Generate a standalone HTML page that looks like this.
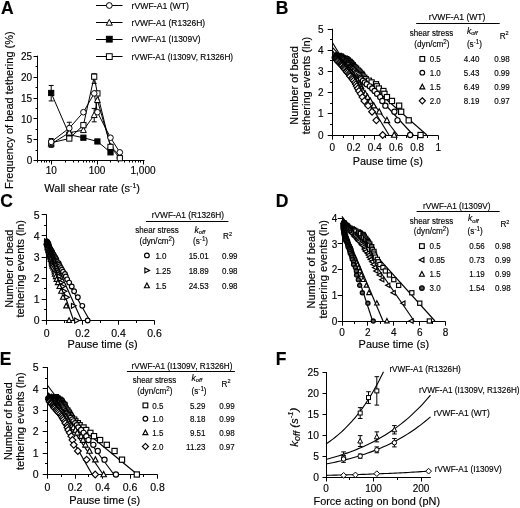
<!DOCTYPE html>
<html><head><meta charset="utf-8"><style>
html,body{margin:0;padding:0;background:#fff;width:520px;height:508px;overflow:hidden}
svg{display:block;filter:blur(0.35px)}
text{font-family:"Liberation Sans", sans-serif;fill:#000;stroke:#000;stroke-width:0.15px}
</style></head><body>
<svg width="520" height="508" viewBox="0 0 520 508" font-family='"Liberation Sans", sans-serif'><text x="1.00" y="13.90" font-size="17.5" font-weight="bold">A</text>
<line x1="37.50" y1="55.70" x2="37.50" y2="161.20" stroke="#000" stroke-width="1.0"/>
<line x1="33.50" y1="160.50" x2="37.50" y2="160.50" stroke="#000" stroke-width="1.0"/>
<line x1="33.50" y1="139.50" x2="37.50" y2="139.50" stroke="#000" stroke-width="1.0"/>
<line x1="33.50" y1="118.50" x2="37.50" y2="118.50" stroke="#000" stroke-width="1.0"/>
<line x1="33.50" y1="98.50" x2="37.50" y2="98.50" stroke="#000" stroke-width="1.0"/>
<line x1="33.50" y1="77.50" x2="37.50" y2="77.50" stroke="#000" stroke-width="1.0"/>
<line x1="33.50" y1="56.50" x2="37.50" y2="56.50" stroke="#000" stroke-width="1.0"/>
<line x1="35.50" y1="150.50" x2="37.50" y2="150.50" stroke="#000" stroke-width="1.0"/>
<line x1="35.50" y1="129.50" x2="37.50" y2="129.50" stroke="#000" stroke-width="1.0"/>
<line x1="35.50" y1="108.50" x2="37.50" y2="108.50" stroke="#000" stroke-width="1.0"/>
<line x1="35.50" y1="87.50" x2="37.50" y2="87.50" stroke="#000" stroke-width="1.0"/>
<line x1="35.50" y1="66.50" x2="37.50" y2="66.50" stroke="#000" stroke-width="1.0"/>
<text x="32.20" y="164.30" font-size="10" text-anchor="end">0</text>
<text x="32.20" y="143.40" font-size="10" text-anchor="end">5</text>
<text x="32.20" y="122.50" font-size="10" text-anchor="end">10</text>
<text x="32.20" y="101.60" font-size="10" text-anchor="end">15</text>
<text x="32.20" y="80.70" font-size="10" text-anchor="end">20</text>
<text x="32.20" y="59.80" font-size="10" text-anchor="end">25</text>
<line x1="37.00" y1="160.50" x2="144.50" y2="160.50" stroke="#000" stroke-width="1.0"/>
<line x1="51.50" y1="160.50" x2="51.50" y2="164.50" stroke="#000" stroke-width="1.0"/>
<line x1="97.50" y1="160.50" x2="97.50" y2="164.50" stroke="#000" stroke-width="1.0"/>
<line x1="143.50" y1="160.50" x2="143.50" y2="164.50" stroke="#000" stroke-width="1.0"/>
<line x1="37.50" y1="160.50" x2="37.50" y2="162.50" stroke="#000" stroke-width="1.0"/>
<line x1="41.50" y1="160.50" x2="41.50" y2="162.50" stroke="#000" stroke-width="1.0"/>
<line x1="44.50" y1="160.50" x2="44.50" y2="162.50" stroke="#000" stroke-width="1.0"/>
<line x1="46.50" y1="160.50" x2="46.50" y2="162.50" stroke="#000" stroke-width="1.0"/>
<line x1="49.50" y1="160.50" x2="49.50" y2="162.50" stroke="#000" stroke-width="1.0"/>
<line x1="65.50" y1="160.50" x2="65.50" y2="162.50" stroke="#000" stroke-width="1.0"/>
<line x1="73.50" y1="160.50" x2="73.50" y2="162.50" stroke="#000" stroke-width="1.0"/>
<line x1="78.50" y1="160.50" x2="78.50" y2="162.50" stroke="#000" stroke-width="1.0"/>
<line x1="83.50" y1="160.50" x2="83.50" y2="162.50" stroke="#000" stroke-width="1.0"/>
<line x1="86.50" y1="160.50" x2="86.50" y2="162.50" stroke="#000" stroke-width="1.0"/>
<line x1="89.50" y1="160.50" x2="89.50" y2="162.50" stroke="#000" stroke-width="1.0"/>
<line x1="92.50" y1="160.50" x2="92.50" y2="162.50" stroke="#000" stroke-width="1.0"/>
<line x1="94.50" y1="160.50" x2="94.50" y2="162.50" stroke="#000" stroke-width="1.0"/>
<line x1="110.50" y1="160.50" x2="110.50" y2="162.50" stroke="#000" stroke-width="1.0"/>
<line x1="118.50" y1="160.50" x2="118.50" y2="162.50" stroke="#000" stroke-width="1.0"/>
<line x1="124.50" y1="160.50" x2="124.50" y2="162.50" stroke="#000" stroke-width="1.0"/>
<line x1="129.50" y1="160.50" x2="129.50" y2="162.50" stroke="#000" stroke-width="1.0"/>
<line x1="132.50" y1="160.50" x2="132.50" y2="162.50" stroke="#000" stroke-width="1.0"/>
<line x1="135.50" y1="160.50" x2="135.50" y2="162.50" stroke="#000" stroke-width="1.0"/>
<line x1="138.50" y1="160.50" x2="138.50" y2="162.50" stroke="#000" stroke-width="1.0"/>
<line x1="140.50" y1="160.50" x2="140.50" y2="162.50" stroke="#000" stroke-width="1.0"/>
<text x="51.20" y="174.20" font-size="10" text-anchor="middle">10</text>
<text x="97.10" y="174.20" font-size="10" text-anchor="middle">100</text>
<text x="143.00" y="174.20" font-size="10" text-anchor="middle">1,000</text>
<text x="44.30" y="191.60" font-size="11">Wall shear rate (s<tspan font-size="7" dy="-4">-1</tspan><tspan dy="4">)</tspan></text>
<text x="13.10" y="110.20" font-size="11" text-anchor="middle" transform="rotate(-90 13.10 110.20)">Frequency of bead tethering (%)</text>
<line x1="96.00" y1="5.50" x2="122.50" y2="5.50" stroke="#000" stroke-width="1.0"/>
<circle cx="109.30" cy="5.50" r="2.90" fill="#fff" stroke="#000" stroke-width="1.0"/>
<text x="131.60" y="8.50" font-size="8.5" textLength="57.3" lengthAdjust="spacingAndGlyphs">rVWF-A1 (WT)</text>
<line x1="96.00" y1="22.50" x2="122.50" y2="22.50" stroke="#000" stroke-width="1.0"/>
<polygon points="109.30,19.36 112.34,25.20 106.25,25.20" fill="#fff" stroke="#000" stroke-width="1.0" stroke-linejoin="miter"/>
<text x="131.60" y="25.70" font-size="8.5" textLength="73.5" lengthAdjust="spacingAndGlyphs">rVWF-A1 (R1326H)</text>
<line x1="96.00" y1="39.50" x2="122.50" y2="39.50" stroke="#000" stroke-width="1.0"/>
<rect x="106.40" y="36.30" width="5.80" height="5.80" fill="#000" stroke="#000" stroke-width="1.0"/>
<text x="131.60" y="42.20" font-size="8.5" textLength="69.0" lengthAdjust="spacingAndGlyphs">rVWF-A1 (I1309V)</text>
<line x1="96.00" y1="56.50" x2="122.50" y2="56.50" stroke="#000" stroke-width="1.0"/>
<rect x="106.40" y="53.70" width="5.80" height="5.80" fill="#fff" stroke="#000" stroke-width="1.0"/>
<text x="131.60" y="59.60" font-size="8.5" textLength="101.5" lengthAdjust="spacingAndGlyphs">rVWF-A1 (I1309V, R1326H)</text>
<line x1="51.20" y1="100.93" x2="51.20" y2="85.46" stroke="#000" stroke-width="1.0"/>
<line x1="48.70" y1="100.93" x2="53.70" y2="100.93" stroke="#000" stroke-width="1.0"/>
<line x1="48.70" y1="85.46" x2="53.70" y2="85.46" stroke="#000" stroke-width="1.0"/>
<line x1="51.20" y1="147.32" x2="51.20" y2="138.55" stroke="#000" stroke-width="1.0"/>
<line x1="48.70" y1="147.32" x2="53.70" y2="147.32" stroke="#000" stroke-width="1.0"/>
<line x1="48.70" y1="138.55" x2="53.70" y2="138.55" stroke="#000" stroke-width="1.0"/>
<line x1="69.30" y1="137.71" x2="69.30" y2="122.24" stroke="#000" stroke-width="1.0"/>
<line x1="66.80" y1="137.71" x2="71.80" y2="137.71" stroke="#000" stroke-width="1.0"/>
<line x1="66.80" y1="122.24" x2="71.80" y2="122.24" stroke="#000" stroke-width="1.0"/>
<line x1="94.20" y1="121.83" x2="94.20" y2="108.45" stroke="#000" stroke-width="1.0"/>
<line x1="91.70" y1="121.83" x2="96.70" y2="121.83" stroke="#000" stroke-width="1.0"/>
<line x1="91.70" y1="108.45" x2="96.70" y2="108.45" stroke="#000" stroke-width="1.0"/>
<line x1="94.20" y1="83.37" x2="94.20" y2="73.76" stroke="#000" stroke-width="1.0"/>
<line x1="91.70" y1="83.37" x2="96.70" y2="83.37" stroke="#000" stroke-width="1.0"/>
<line x1="91.70" y1="73.76" x2="96.70" y2="73.76" stroke="#000" stroke-width="1.0"/>
<polyline points="51.20,92.98 69.30,134.78 83.40,137.71 97.40,141.47 110.50,152.34" fill="none" stroke="#000" stroke-width="1.0"/>
<polyline points="51.20,143.98 69.30,132.69 83.40,130.19 94.20,115.14 97.40,100.09 110.50,146.07 119.80,155.68" fill="none" stroke="#000" stroke-width="1.0"/>
<polyline points="51.20,142.73 69.30,138.55 83.40,125.17 94.20,76.68 97.40,93.40 110.50,146.91 119.80,158.19" fill="none" stroke="#000" stroke-width="1.0"/>
<polyline points="51.20,141.89 69.30,128.10 83.40,112.21 94.20,93.40 97.40,112.21 110.50,137.71 119.80,152.34" fill="none" stroke="#000" stroke-width="1.0"/>
<rect x="48.60" y="90.38" width="5.20" height="5.20" fill="#000" stroke="#000" stroke-width="1.0"/>
<rect x="66.70" y="132.18" width="5.20" height="5.20" fill="#000" stroke="#000" stroke-width="1.0"/>
<rect x="80.80" y="135.11" width="5.20" height="5.20" fill="#000" stroke="#000" stroke-width="1.0"/>
<rect x="94.80" y="138.87" width="5.20" height="5.20" fill="#000" stroke="#000" stroke-width="1.0"/>
<rect x="107.90" y="149.74" width="5.20" height="5.20" fill="#000" stroke="#000" stroke-width="1.0"/>
<polygon points="51.20,140.76 54.14,146.39 48.26,146.39" fill="#fff" stroke="#000" stroke-width="1.0" stroke-linejoin="miter"/>
<polygon points="69.30,129.47 72.24,135.11 66.36,135.11" fill="#fff" stroke="#000" stroke-width="1.0" stroke-linejoin="miter"/>
<polygon points="83.40,126.97 86.34,132.60 80.46,132.60" fill="#fff" stroke="#000" stroke-width="1.0" stroke-linejoin="miter"/>
<polygon points="94.20,111.92 97.14,117.55 91.26,117.55" fill="#fff" stroke="#000" stroke-width="1.0" stroke-linejoin="miter"/>
<polygon points="97.40,96.87 100.34,102.50 94.46,102.50" fill="#fff" stroke="#000" stroke-width="1.0" stroke-linejoin="miter"/>
<polygon points="110.50,142.85 113.44,148.48 107.56,148.48" fill="#fff" stroke="#000" stroke-width="1.0" stroke-linejoin="miter"/>
<polygon points="119.80,152.46 122.74,158.10 116.86,158.10" fill="#fff" stroke="#000" stroke-width="1.0" stroke-linejoin="miter"/>
<rect x="48.60" y="140.13" width="5.20" height="5.20" fill="#fff" stroke="#000" stroke-width="1.0"/>
<rect x="66.70" y="135.95" width="5.20" height="5.20" fill="#fff" stroke="#000" stroke-width="1.0"/>
<rect x="80.80" y="122.57" width="5.20" height="5.20" fill="#fff" stroke="#000" stroke-width="1.0"/>
<rect x="91.60" y="74.08" width="5.20" height="5.20" fill="#fff" stroke="#000" stroke-width="1.0"/>
<rect x="94.80" y="90.80" width="5.20" height="5.20" fill="#fff" stroke="#000" stroke-width="1.0"/>
<rect x="107.90" y="144.31" width="5.20" height="5.20" fill="#fff" stroke="#000" stroke-width="1.0"/>
<rect x="117.20" y="155.59" width="5.20" height="5.20" fill="#fff" stroke="#000" stroke-width="1.0"/>
<circle cx="51.20" cy="141.89" r="2.80" fill="#fff" stroke="#000" stroke-width="1.0"/>
<circle cx="69.30" cy="128.10" r="2.80" fill="#fff" stroke="#000" stroke-width="1.0"/>
<circle cx="83.40" cy="112.21" r="2.80" fill="#fff" stroke="#000" stroke-width="1.0"/>
<circle cx="94.20" cy="93.40" r="2.80" fill="#fff" stroke="#000" stroke-width="1.0"/>
<circle cx="97.40" cy="112.21" r="2.80" fill="#fff" stroke="#000" stroke-width="1.0"/>
<circle cx="110.50" cy="137.71" r="2.80" fill="#fff" stroke="#000" stroke-width="1.0"/>
<circle cx="119.80" cy="152.34" r="2.80" fill="#fff" stroke="#000" stroke-width="1.0"/>
<line x1="332.50" y1="28.75" x2="332.50" y2="135.50" stroke="#000" stroke-width="1.0"/>
<line x1="327.70" y1="135.50" x2="332.50" y2="135.50" stroke="#000" stroke-width="1.0"/>
<line x1="327.70" y1="113.50" x2="332.50" y2="113.50" stroke="#000" stroke-width="1.0"/>
<line x1="327.70" y1="92.50" x2="332.50" y2="92.50" stroke="#000" stroke-width="1.0"/>
<line x1="327.70" y1="71.50" x2="332.50" y2="71.50" stroke="#000" stroke-width="1.0"/>
<line x1="327.70" y1="50.50" x2="332.50" y2="50.50" stroke="#000" stroke-width="1.0"/>
<line x1="327.70" y1="29.50" x2="332.50" y2="29.50" stroke="#000" stroke-width="1.0"/>
<line x1="330.00" y1="124.50" x2="332.50" y2="124.50" stroke="#000" stroke-width="1.0"/>
<line x1="330.00" y1="103.50" x2="332.50" y2="103.50" stroke="#000" stroke-width="1.0"/>
<line x1="330.00" y1="82.50" x2="332.50" y2="82.50" stroke="#000" stroke-width="1.0"/>
<line x1="330.00" y1="60.50" x2="332.50" y2="60.50" stroke="#000" stroke-width="1.0"/>
<line x1="330.00" y1="39.50" x2="332.50" y2="39.50" stroke="#000" stroke-width="1.0"/>
<text x="323.60" y="138.60" font-size="10" text-anchor="end">0</text>
<text x="323.60" y="117.45" font-size="10" text-anchor="end">1</text>
<text x="323.60" y="96.30" font-size="10" text-anchor="end">2</text>
<text x="323.60" y="75.15" font-size="10" text-anchor="end">3</text>
<text x="323.60" y="54.00" font-size="10" text-anchor="end">4</text>
<text x="323.60" y="32.85" font-size="10" text-anchor="end">5</text>
<line x1="332.00" y1="135.50" x2="438.40" y2="135.50" stroke="#000" stroke-width="1.0"/>
<line x1="332.50" y1="135.50" x2="332.50" y2="139.70" stroke="#000" stroke-width="1.0"/>
<line x1="353.50" y1="135.50" x2="353.50" y2="139.70" stroke="#000" stroke-width="1.0"/>
<line x1="374.50" y1="135.50" x2="374.50" y2="139.70" stroke="#000" stroke-width="1.0"/>
<line x1="396.50" y1="135.50" x2="396.50" y2="139.70" stroke="#000" stroke-width="1.0"/>
<line x1="417.50" y1="135.50" x2="417.50" y2="139.70" stroke="#000" stroke-width="1.0"/>
<line x1="438.50" y1="135.50" x2="438.50" y2="139.70" stroke="#000" stroke-width="1.0"/>
<line x1="343.50" y1="135.50" x2="343.50" y2="138.00" stroke="#000" stroke-width="1.0"/>
<line x1="364.50" y1="135.50" x2="364.50" y2="138.00" stroke="#000" stroke-width="1.0"/>
<line x1="385.50" y1="135.50" x2="385.50" y2="138.00" stroke="#000" stroke-width="1.0"/>
<line x1="406.50" y1="135.50" x2="406.50" y2="138.00" stroke="#000" stroke-width="1.0"/>
<line x1="427.50" y1="135.50" x2="427.50" y2="138.00" stroke="#000" stroke-width="1.0"/>
<text x="332.40" y="150.60" font-size="10" text-anchor="middle">0</text>
<text x="353.60" y="150.60" font-size="10" text-anchor="middle">0.2</text>
<text x="374.80" y="150.60" font-size="10" text-anchor="middle">0.4</text>
<text x="396.00" y="150.60" font-size="10" text-anchor="middle">0.6</text>
<text x="417.20" y="150.60" font-size="10" text-anchor="middle">0.8</text>
<text x="438.40" y="150.60" font-size="10" text-anchor="middle">1</text>
<text x="352.80" y="165.30" font-size="10.9" textLength="70.0" lengthAdjust="spacingAndGlyphs">Pause time (s)</text>
<line x1="332.40" y1="52.09" x2="426.84" y2="135.00" stroke="#000" stroke-width="1.15"/>
<line x1="332.40" y1="47.44" x2="413.22" y2="135.00" stroke="#000" stroke-width="1.15"/>
<line x1="332.40" y1="50.61" x2="397.57" y2="135.00" stroke="#000" stroke-width="1.15"/>
<line x1="332.40" y1="42.57" x2="388.96" y2="135.00" stroke="#000" stroke-width="1.15"/>
<rect x="336.18" y="53.35" width="5.20" height="5.20" fill="#fff" stroke="#000" stroke-width="1.15"/>
<rect x="337.90" y="53.86" width="5.20" height="5.20" fill="#fff" stroke="#000" stroke-width="1.15"/>
<rect x="338.03" y="54.38" width="5.20" height="5.20" fill="#fff" stroke="#000" stroke-width="1.15"/>
<rect x="339.03" y="54.92" width="5.20" height="5.20" fill="#fff" stroke="#000" stroke-width="1.15"/>
<rect x="340.11" y="55.47" width="5.20" height="5.20" fill="#fff" stroke="#000" stroke-width="1.15"/>
<rect x="342.27" y="56.03" width="5.20" height="5.20" fill="#fff" stroke="#000" stroke-width="1.15"/>
<rect x="343.53" y="56.61" width="5.20" height="5.20" fill="#fff" stroke="#000" stroke-width="1.15"/>
<rect x="344.04" y="57.20" width="5.20" height="5.20" fill="#fff" stroke="#000" stroke-width="1.15"/>
<rect x="345.13" y="57.82" width="5.20" height="5.20" fill="#fff" stroke="#000" stroke-width="1.15"/>
<rect x="345.28" y="58.45" width="5.20" height="5.20" fill="#fff" stroke="#000" stroke-width="1.15"/>
<rect x="346.63" y="59.10" width="5.20" height="5.20" fill="#fff" stroke="#000" stroke-width="1.15"/>
<rect x="347.07" y="59.77" width="5.20" height="5.20" fill="#fff" stroke="#000" stroke-width="1.15"/>
<rect x="348.01" y="60.46" width="5.20" height="5.20" fill="#fff" stroke="#000" stroke-width="1.15"/>
<rect x="348.55" y="61.18" width="5.20" height="5.20" fill="#fff" stroke="#000" stroke-width="1.15"/>
<rect x="349.01" y="61.92" width="5.20" height="5.20" fill="#fff" stroke="#000" stroke-width="1.15"/>
<rect x="350.26" y="62.69" width="5.20" height="5.20" fill="#fff" stroke="#000" stroke-width="1.15"/>
<rect x="349.98" y="63.49" width="5.20" height="5.20" fill="#fff" stroke="#000" stroke-width="1.15"/>
<rect x="351.14" y="64.32" width="5.20" height="5.20" fill="#fff" stroke="#000" stroke-width="1.15"/>
<rect x="352.35" y="65.18" width="5.20" height="5.20" fill="#fff" stroke="#000" stroke-width="1.15"/>
<rect x="353.45" y="66.08" width="5.20" height="5.20" fill="#fff" stroke="#000" stroke-width="1.15"/>
<rect x="353.49" y="67.02" width="5.20" height="5.20" fill="#fff" stroke="#000" stroke-width="1.15"/>
<rect x="355.23" y="68.01" width="5.20" height="5.20" fill="#fff" stroke="#000" stroke-width="1.15"/>
<rect x="356.33" y="69.04" width="5.20" height="5.20" fill="#fff" stroke="#000" stroke-width="1.15"/>
<rect x="357.11" y="70.13" width="5.20" height="5.20" fill="#fff" stroke="#000" stroke-width="1.15"/>
<rect x="358.67" y="71.27" width="5.20" height="5.20" fill="#fff" stroke="#000" stroke-width="1.15"/>
<rect x="359.43" y="72.48" width="5.20" height="5.20" fill="#fff" stroke="#000" stroke-width="1.15"/>
<rect x="359.89" y="73.76" width="5.20" height="5.20" fill="#fff" stroke="#000" stroke-width="1.15"/>
<rect x="361.66" y="75.12" width="5.20" height="5.20" fill="#fff" stroke="#000" stroke-width="1.15"/>
<rect x="363.10" y="76.58" width="5.20" height="5.20" fill="#fff" stroke="#000" stroke-width="1.15"/>
<rect x="366.33" y="78.15" width="5.20" height="5.20" fill="#fff" stroke="#000" stroke-width="1.15"/>
<rect x="369.01" y="79.84" width="5.20" height="5.20" fill="#fff" stroke="#000" stroke-width="1.15"/>
<rect x="373.40" y="81.68" width="5.20" height="5.20" fill="#fff" stroke="#000" stroke-width="1.15"/>
<rect x="374.20" y="83.70" width="5.20" height="5.20" fill="#fff" stroke="#000" stroke-width="1.15"/>
<rect x="376.22" y="85.93" width="5.20" height="5.20" fill="#fff" stroke="#000" stroke-width="1.15"/>
<rect x="380.80" y="88.42" width="5.20" height="5.20" fill="#fff" stroke="#000" stroke-width="1.15"/>
<rect x="381.85" y="91.24" width="5.20" height="5.20" fill="#fff" stroke="#000" stroke-width="1.15"/>
<rect x="384.34" y="94.50" width="5.20" height="5.20" fill="#fff" stroke="#000" stroke-width="1.15"/>
<rect x="389.34" y="98.36" width="5.20" height="5.20" fill="#fff" stroke="#000" stroke-width="1.15"/>
<rect x="396.53" y="103.08" width="5.20" height="5.20" fill="#fff" stroke="#000" stroke-width="1.15"/>
<rect x="398.56" y="109.16" width="5.20" height="5.20" fill="#fff" stroke="#000" stroke-width="1.15"/>
<rect x="406.12" y="117.74" width="5.20" height="5.20" fill="#fff" stroke="#000" stroke-width="1.15"/>
<rect x="417.98" y="132.40" width="5.20" height="5.20" fill="#fff" stroke="#000" stroke-width="1.15"/>
<circle cx="337.88" cy="55.95" r="2.60" fill="#fff" stroke="#000" stroke-width="1.15"/>
<circle cx="338.03" cy="56.46" r="2.60" fill="#fff" stroke="#000" stroke-width="1.15"/>
<circle cx="339.44" cy="56.98" r="2.60" fill="#fff" stroke="#000" stroke-width="1.15"/>
<circle cx="340.13" cy="57.52" r="2.60" fill="#fff" stroke="#000" stroke-width="1.15"/>
<circle cx="340.27" cy="58.07" r="2.60" fill="#fff" stroke="#000" stroke-width="1.15"/>
<circle cx="341.63" cy="58.63" r="2.60" fill="#fff" stroke="#000" stroke-width="1.15"/>
<circle cx="341.66" cy="59.21" r="2.60" fill="#fff" stroke="#000" stroke-width="1.15"/>
<circle cx="343.26" cy="59.80" r="2.60" fill="#fff" stroke="#000" stroke-width="1.15"/>
<circle cx="343.23" cy="60.42" r="2.60" fill="#fff" stroke="#000" stroke-width="1.15"/>
<circle cx="345.00" cy="61.05" r="2.60" fill="#fff" stroke="#000" stroke-width="1.15"/>
<circle cx="345.61" cy="61.70" r="2.60" fill="#fff" stroke="#000" stroke-width="1.15"/>
<circle cx="345.77" cy="62.37" r="2.60" fill="#fff" stroke="#000" stroke-width="1.15"/>
<circle cx="346.38" cy="63.06" r="2.60" fill="#fff" stroke="#000" stroke-width="1.15"/>
<circle cx="347.53" cy="63.78" r="2.60" fill="#fff" stroke="#000" stroke-width="1.15"/>
<circle cx="348.83" cy="64.52" r="2.60" fill="#fff" stroke="#000" stroke-width="1.15"/>
<circle cx="348.59" cy="65.29" r="2.60" fill="#fff" stroke="#000" stroke-width="1.15"/>
<circle cx="350.43" cy="66.09" r="2.60" fill="#fff" stroke="#000" stroke-width="1.15"/>
<circle cx="350.98" cy="66.92" r="2.60" fill="#fff" stroke="#000" stroke-width="1.15"/>
<circle cx="350.73" cy="67.78" r="2.60" fill="#fff" stroke="#000" stroke-width="1.15"/>
<circle cx="351.80" cy="68.68" r="2.60" fill="#fff" stroke="#000" stroke-width="1.15"/>
<circle cx="353.03" cy="69.62" r="2.60" fill="#fff" stroke="#000" stroke-width="1.15"/>
<circle cx="354.32" cy="70.61" r="2.60" fill="#fff" stroke="#000" stroke-width="1.15"/>
<circle cx="354.54" cy="71.64" r="2.60" fill="#fff" stroke="#000" stroke-width="1.15"/>
<circle cx="356.25" cy="72.73" r="2.60" fill="#fff" stroke="#000" stroke-width="1.15"/>
<circle cx="357.18" cy="73.87" r="2.60" fill="#fff" stroke="#000" stroke-width="1.15"/>
<circle cx="358.61" cy="75.08" r="2.60" fill="#fff" stroke="#000" stroke-width="1.15"/>
<circle cx="359.71" cy="76.36" r="2.60" fill="#fff" stroke="#000" stroke-width="1.15"/>
<circle cx="360.67" cy="77.72" r="2.60" fill="#fff" stroke="#000" stroke-width="1.15"/>
<circle cx="360.98" cy="79.18" r="2.60" fill="#fff" stroke="#000" stroke-width="1.15"/>
<circle cx="362.99" cy="80.75" r="2.60" fill="#fff" stroke="#000" stroke-width="1.15"/>
<circle cx="364.87" cy="82.44" r="2.60" fill="#fff" stroke="#000" stroke-width="1.15"/>
<circle cx="366.72" cy="84.28" r="2.60" fill="#fff" stroke="#000" stroke-width="1.15"/>
<circle cx="369.79" cy="86.30" r="2.60" fill="#fff" stroke="#000" stroke-width="1.15"/>
<circle cx="372.20" cy="88.53" r="2.60" fill="#fff" stroke="#000" stroke-width="1.15"/>
<circle cx="374.60" cy="91.02" r="2.60" fill="#fff" stroke="#000" stroke-width="1.15"/>
<circle cx="377.10" cy="93.84" r="2.60" fill="#fff" stroke="#000" stroke-width="1.15"/>
<circle cx="380.21" cy="97.10" r="2.60" fill="#fff" stroke="#000" stroke-width="1.15"/>
<circle cx="382.32" cy="100.96" r="2.60" fill="#fff" stroke="#000" stroke-width="1.15"/>
<circle cx="385.38" cy="105.68" r="2.60" fill="#fff" stroke="#000" stroke-width="1.15"/>
<circle cx="394.39" cy="111.76" r="2.60" fill="#fff" stroke="#000" stroke-width="1.15"/>
<circle cx="397.52" cy="120.34" r="2.60" fill="#fff" stroke="#000" stroke-width="1.15"/>
<circle cx="410.15" cy="135.00" r="2.60" fill="#fff" stroke="#000" stroke-width="1.15"/>
<polygon points="335.93,52.96 338.66,58.19 333.20,58.19" fill="#fff" stroke="#000" stroke-width="1.15" stroke-linejoin="miter"/>
<polygon points="336.39,53.47 339.12,58.70 333.66,58.70" fill="#fff" stroke="#000" stroke-width="1.15" stroke-linejoin="miter"/>
<polygon points="336.45,53.99 339.18,59.22 333.72,59.22" fill="#fff" stroke="#000" stroke-width="1.15" stroke-linejoin="miter"/>
<polygon points="337.38,54.53 340.11,59.76 334.65,59.76" fill="#fff" stroke="#000" stroke-width="1.15" stroke-linejoin="miter"/>
<polygon points="337.65,55.08 340.38,60.31 334.92,60.31" fill="#fff" stroke="#000" stroke-width="1.15" stroke-linejoin="miter"/>
<polygon points="338.40,55.64 341.13,60.87 335.67,60.87" fill="#fff" stroke="#000" stroke-width="1.15" stroke-linejoin="miter"/>
<polygon points="338.25,56.22 340.98,61.45 335.52,61.45" fill="#fff" stroke="#000" stroke-width="1.15" stroke-linejoin="miter"/>
<polygon points="339.56,56.81 342.29,62.05 336.83,62.05" fill="#fff" stroke="#000" stroke-width="1.15" stroke-linejoin="miter"/>
<polygon points="340.17,57.43 342.90,62.66 337.44,62.66" fill="#fff" stroke="#000" stroke-width="1.15" stroke-linejoin="miter"/>
<polygon points="340.06,58.06 342.79,63.29 337.33,63.29" fill="#fff" stroke="#000" stroke-width="1.15" stroke-linejoin="miter"/>
<polygon points="341.44,58.71 344.17,63.94 338.71,63.94" fill="#fff" stroke="#000" stroke-width="1.15" stroke-linejoin="miter"/>
<polygon points="341.91,59.38 344.64,64.61 339.18,64.61" fill="#fff" stroke="#000" stroke-width="1.15" stroke-linejoin="miter"/>
<polygon points="342.11,60.07 344.84,65.31 339.38,65.31" fill="#fff" stroke="#000" stroke-width="1.15" stroke-linejoin="miter"/>
<polygon points="343.53,60.79 346.26,66.02 340.80,66.02" fill="#fff" stroke="#000" stroke-width="1.15" stroke-linejoin="miter"/>
<polygon points="344.23,61.53 346.96,66.77 341.50,66.77" fill="#fff" stroke="#000" stroke-width="1.15" stroke-linejoin="miter"/>
<polygon points="345.48,62.30 348.21,67.54 342.75,67.54" fill="#fff" stroke="#000" stroke-width="1.15" stroke-linejoin="miter"/>
<polygon points="345.32,63.10 348.05,68.33 342.59,68.33" fill="#fff" stroke="#000" stroke-width="1.15" stroke-linejoin="miter"/>
<polygon points="345.96,63.93 348.69,69.16 343.23,69.16" fill="#fff" stroke="#000" stroke-width="1.15" stroke-linejoin="miter"/>
<polygon points="347.33,64.79 350.06,70.03 344.60,70.03" fill="#fff" stroke="#000" stroke-width="1.15" stroke-linejoin="miter"/>
<polygon points="347.74,65.69 350.47,70.93 345.01,70.93" fill="#fff" stroke="#000" stroke-width="1.15" stroke-linejoin="miter"/>
<polygon points="348.66,66.63 351.39,71.87 345.93,71.87" fill="#fff" stroke="#000" stroke-width="1.15" stroke-linejoin="miter"/>
<polygon points="350.07,67.62 352.80,72.85 347.34,72.85" fill="#fff" stroke="#000" stroke-width="1.15" stroke-linejoin="miter"/>
<polygon points="350.56,68.65 353.29,73.88 347.83,73.88" fill="#fff" stroke="#000" stroke-width="1.15" stroke-linejoin="miter"/>
<polygon points="351.43,69.74 354.16,74.97 348.70,74.97" fill="#fff" stroke="#000" stroke-width="1.15" stroke-linejoin="miter"/>
<polygon points="352.47,70.88 355.20,76.11 349.74,76.11" fill="#fff" stroke="#000" stroke-width="1.15" stroke-linejoin="miter"/>
<polygon points="353.38,72.09 356.11,77.32 350.65,77.32" fill="#fff" stroke="#000" stroke-width="1.15" stroke-linejoin="miter"/>
<polygon points="354.08,73.37 356.81,78.60 351.35,78.60" fill="#fff" stroke="#000" stroke-width="1.15" stroke-linejoin="miter"/>
<polygon points="354.92,74.73 357.65,79.97 352.19,79.97" fill="#fff" stroke="#000" stroke-width="1.15" stroke-linejoin="miter"/>
<polygon points="355.79,76.19 358.52,81.43 353.06,81.43" fill="#fff" stroke="#000" stroke-width="1.15" stroke-linejoin="miter"/>
<polygon points="357.50,77.76 360.23,82.99 354.77,82.99" fill="#fff" stroke="#000" stroke-width="1.15" stroke-linejoin="miter"/>
<polygon points="358.71,79.45 361.44,84.69 355.98,84.69" fill="#fff" stroke="#000" stroke-width="1.15" stroke-linejoin="miter"/>
<polygon points="359.06,81.29 361.79,86.53 356.33,86.53" fill="#fff" stroke="#000" stroke-width="1.15" stroke-linejoin="miter"/>
<polygon points="360.94,83.31 363.67,88.54 358.21,88.54" fill="#fff" stroke="#000" stroke-width="1.15" stroke-linejoin="miter"/>
<polygon points="361.19,85.54 363.92,90.77 358.46,90.77" fill="#fff" stroke="#000" stroke-width="1.15" stroke-linejoin="miter"/>
<polygon points="362.78,88.03 365.51,93.26 360.05,93.26" fill="#fff" stroke="#000" stroke-width="1.15" stroke-linejoin="miter"/>
<polygon points="365.23,90.85 367.96,96.09 362.50,96.09" fill="#fff" stroke="#000" stroke-width="1.15" stroke-linejoin="miter"/>
<polygon points="367.52,94.11 370.25,99.35 364.79,99.35" fill="#fff" stroke="#000" stroke-width="1.15" stroke-linejoin="miter"/>
<polygon points="370.26,97.97 372.99,103.20 367.53,103.20" fill="#fff" stroke="#000" stroke-width="1.15" stroke-linejoin="miter"/>
<polygon points="373.72,102.69 376.45,107.92 370.99,107.92" fill="#fff" stroke="#000" stroke-width="1.15" stroke-linejoin="miter"/>
<polygon points="379.20,108.77 381.93,114.01 376.47,114.01" fill="#fff" stroke="#000" stroke-width="1.15" stroke-linejoin="miter"/>
<polygon points="386.92,117.35 389.65,122.58 384.19,122.58" fill="#fff" stroke="#000" stroke-width="1.15" stroke-linejoin="miter"/>
<polygon points="394.17,132.01 396.90,137.24 391.44,137.24" fill="#fff" stroke="#000" stroke-width="1.15" stroke-linejoin="miter"/>
<polygon points="336.02,52.57 339.40,55.95 336.02,59.33 332.64,55.95" fill="#fff" stroke="#000" stroke-width="1.15"/>
<polygon points="336.09,53.08 339.47,56.46 336.09,59.84 332.71,56.46" fill="#fff" stroke="#000" stroke-width="1.15"/>
<polygon points="335.43,53.60 338.81,56.98 335.43,60.36 332.05,56.98" fill="#fff" stroke="#000" stroke-width="1.15"/>
<polygon points="335.98,54.14 339.36,57.52 335.98,60.90 332.60,57.52" fill="#fff" stroke="#000" stroke-width="1.15"/>
<polygon points="335.58,54.69 338.96,58.07 335.58,61.45 332.20,58.07" fill="#fff" stroke="#000" stroke-width="1.15"/>
<polygon points="335.84,55.25 339.22,58.63 335.84,62.01 332.46,58.63" fill="#fff" stroke="#000" stroke-width="1.15"/>
<polygon points="336.26,55.83 339.64,59.21 336.26,62.59 332.88,59.21" fill="#fff" stroke="#000" stroke-width="1.15"/>
<polygon points="337.02,56.42 340.40,59.80 337.02,63.18 333.64,59.80" fill="#fff" stroke="#000" stroke-width="1.15"/>
<polygon points="337.36,57.04 340.74,60.42 337.36,63.80 333.98,60.42" fill="#fff" stroke="#000" stroke-width="1.15"/>
<polygon points="337.63,57.67 341.01,61.05 337.63,64.43 334.25,61.05" fill="#fff" stroke="#000" stroke-width="1.15"/>
<polygon points="338.10,58.32 341.48,61.70 338.10,65.08 334.72,61.70" fill="#fff" stroke="#000" stroke-width="1.15"/>
<polygon points="339.67,58.99 343.05,62.37 339.67,65.75 336.29,62.37" fill="#fff" stroke="#000" stroke-width="1.15"/>
<polygon points="339.87,59.68 343.25,63.06 339.87,66.44 336.49,63.06" fill="#fff" stroke="#000" stroke-width="1.15"/>
<polygon points="341.12,60.40 344.50,63.78 341.12,67.16 337.74,63.78" fill="#fff" stroke="#000" stroke-width="1.15"/>
<polygon points="341.22,61.14 344.60,64.52 341.22,67.90 337.84,64.52" fill="#fff" stroke="#000" stroke-width="1.15"/>
<polygon points="341.81,61.91 345.19,65.29 341.81,68.67 338.43,65.29" fill="#fff" stroke="#000" stroke-width="1.15"/>
<polygon points="342.16,62.71 345.54,66.09 342.16,69.47 338.78,66.09" fill="#fff" stroke="#000" stroke-width="1.15"/>
<polygon points="343.57,63.54 346.95,66.92 343.57,70.30 340.19,66.92" fill="#fff" stroke="#000" stroke-width="1.15"/>
<polygon points="343.91,64.40 347.29,67.78 343.91,71.16 340.53,67.78" fill="#fff" stroke="#000" stroke-width="1.15"/>
<polygon points="344.30,65.30 347.68,68.68 344.30,72.06 340.92,68.68" fill="#fff" stroke="#000" stroke-width="1.15"/>
<polygon points="345.10,66.24 348.48,69.62 345.10,73.00 341.72,69.62" fill="#fff" stroke="#000" stroke-width="1.15"/>
<polygon points="346.59,67.23 349.97,70.61 346.59,73.99 343.21,70.61" fill="#fff" stroke="#000" stroke-width="1.15"/>
<polygon points="346.66,68.26 350.04,71.64 346.66,75.02 343.28,71.64" fill="#fff" stroke="#000" stroke-width="1.15"/>
<polygon points="347.63,69.35 351.01,72.73 347.63,76.11 344.25,72.73" fill="#fff" stroke="#000" stroke-width="1.15"/>
<polygon points="349.06,70.49 352.44,73.87 349.06,77.25 345.68,73.87" fill="#fff" stroke="#000" stroke-width="1.15"/>
<polygon points="349.79,71.70 353.17,75.08 349.79,78.46 346.41,75.08" fill="#fff" stroke="#000" stroke-width="1.15"/>
<polygon points="350.09,72.98 353.47,76.36 350.09,79.74 346.71,76.36" fill="#fff" stroke="#000" stroke-width="1.15"/>
<polygon points="352.10,74.34 355.48,77.72 352.10,81.10 348.72,77.72" fill="#fff" stroke="#000" stroke-width="1.15"/>
<polygon points="352.67,75.80 356.05,79.18 352.67,82.56 349.29,79.18" fill="#fff" stroke="#000" stroke-width="1.15"/>
<polygon points="353.60,77.37 356.98,80.75 353.60,84.13 350.22,80.75" fill="#fff" stroke="#000" stroke-width="1.15"/>
<polygon points="355.08,79.06 358.46,82.44 355.08,85.82 351.70,82.44" fill="#fff" stroke="#000" stroke-width="1.15"/>
<polygon points="355.87,80.90 359.25,84.28 355.87,87.66 352.49,84.28" fill="#fff" stroke="#000" stroke-width="1.15"/>
<polygon points="356.74,82.92 360.12,86.30 356.74,89.68 353.36,86.30" fill="#fff" stroke="#000" stroke-width="1.15"/>
<polygon points="357.84,85.15 361.22,88.53 357.84,91.91 354.46,88.53" fill="#fff" stroke="#000" stroke-width="1.15"/>
<polygon points="358.95,87.64 362.33,91.02 358.95,94.40 355.57,91.02" fill="#fff" stroke="#000" stroke-width="1.15"/>
<polygon points="360.73,90.46 364.11,93.84 360.73,97.22 357.35,93.84" fill="#fff" stroke="#000" stroke-width="1.15"/>
<polygon points="362.42,93.72 365.80,97.10 362.42,100.48 359.04,97.10" fill="#fff" stroke="#000" stroke-width="1.15"/>
<polygon points="364.35,97.58 367.73,100.96 364.35,104.34 360.97,100.96" fill="#fff" stroke="#000" stroke-width="1.15"/>
<polygon points="368.07,102.30 371.45,105.68 368.07,109.06 364.69,105.68" fill="#fff" stroke="#000" stroke-width="1.15"/>
<polygon points="372.04,108.38 375.42,111.76 372.04,115.14 368.66,111.76" fill="#fff" stroke="#000" stroke-width="1.15"/>
<polygon points="376.32,116.96 379.70,120.34 376.32,123.72 372.94,120.34" fill="#fff" stroke="#000" stroke-width="1.15"/>
<polygon points="382.67,131.62 386.05,135.00 382.67,138.38 379.29,135.00" fill="#fff" stroke="#000" stroke-width="1.15"/>
<text x="298.40" y="85.50" font-size="10.6" text-anchor="middle" textLength="78.5" lengthAdjust="spacingAndGlyphs" transform="rotate(-90 298.40 85.50)">Number of bead</text>
<text x="310.20" y="85.50" font-size="10.6" text-anchor="middle" textLength="97.5" lengthAdjust="spacingAndGlyphs" transform="rotate(-90 310.20 85.50)">tethering events (ln)</text>
<text x="275.70" y="13.90" font-size="17.5" font-weight="bold">B</text>
<text x="428.80" y="20.40" font-size="8.3" textLength="56.6" lengthAdjust="spacingAndGlyphs">rVWF-A1 (WT)</text>
<line x1="416.20" y1="23.50" x2="499.70" y2="23.50" stroke="#000" stroke-width="1.0"/>
<text x="0" y="0" transform="translate(409.70 35.80) scale(0.93 1)" font-size="8.6">shear stress</text>
<text x="0" y="0" transform="translate(414.30 46.90) scale(0.95 1)" font-size="8.6">(dyn/cm<tspan font-size="6.6" dy="-3.4">2</tspan><tspan dy="3.4">)</tspan></text>
<text x="466.90" y="33.50" font-size="8.5" font-style="italic">k<tspan font-size="5.8" dy="1.5">off</tspan></text>
<text x="0" y="0" transform="translate(466.90 46.90) scale(0.95 1)" font-size="8.6">(s<tspan font-size="6.6" dy="-3.4">-1</tspan><tspan dy="3.4">)</tspan></text>
<text x="0" y="0" transform="translate(499.70 38.80) scale(0.93 1)" font-size="8.8">R<tspan font-size="6" dy="-3.5">2</tspan></text>
<rect x="419.95" y="56.55" width="4.70" height="4.70" fill="#fff" stroke="#000" stroke-width="1.15"/>
<text x="0" y="0" transform="translate(429.70 62.00) scale(0.91 1)" font-size="8.8">0.5</text>
<text x="0" y="0" transform="translate(479.40 62.00) scale(0.91 1)" font-size="8.8" text-anchor="end">4.40</text>
<text x="0" y="0" transform="translate(494.20 62.00) scale(0.91 1)" font-size="8.8">0.98</text>
<circle cx="422.30" cy="72.70" r="2.35" fill="#fff" stroke="#000" stroke-width="1.15"/>
<text x="0" y="0" transform="translate(429.70 75.80) scale(0.91 1)" font-size="8.8">1.0</text>
<text x="0" y="0" transform="translate(479.40 75.80) scale(0.91 1)" font-size="8.8" text-anchor="end">5.43</text>
<text x="0" y="0" transform="translate(494.20 75.80) scale(0.91 1)" font-size="8.8">0.99</text>
<polygon points="422.30,84.20 424.77,88.93 419.83,88.93" fill="#fff" stroke="#000" stroke-width="1.15" stroke-linejoin="miter"/>
<text x="0" y="0" transform="translate(429.70 90.00) scale(0.91 1)" font-size="8.8">1.5</text>
<text x="0" y="0" transform="translate(479.40 90.00) scale(0.91 1)" font-size="8.8" text-anchor="end">6.49</text>
<text x="0" y="0" transform="translate(494.20 90.00) scale(0.91 1)" font-size="8.8">0.99</text>
<polygon points="422.30,97.74 425.36,100.80 422.30,103.86 419.25,100.80" fill="#fff" stroke="#000" stroke-width="1.15"/>
<text x="0" y="0" transform="translate(429.70 103.90) scale(0.91 1)" font-size="8.8">2.0</text>
<text x="0" y="0" transform="translate(479.40 103.90) scale(0.91 1)" font-size="8.8" text-anchor="end">8.19</text>
<text x="0" y="0" transform="translate(494.20 103.90) scale(0.91 1)" font-size="8.8">0.97</text>
<line x1="46.50" y1="214.25" x2="46.50" y2="321.00" stroke="#000" stroke-width="1.0"/>
<line x1="41.70" y1="320.50" x2="46.50" y2="320.50" stroke="#000" stroke-width="1.0"/>
<line x1="41.70" y1="299.50" x2="46.50" y2="299.50" stroke="#000" stroke-width="1.0"/>
<line x1="41.70" y1="278.50" x2="46.50" y2="278.50" stroke="#000" stroke-width="1.0"/>
<line x1="41.70" y1="257.50" x2="46.50" y2="257.50" stroke="#000" stroke-width="1.0"/>
<line x1="41.70" y1="235.50" x2="46.50" y2="235.50" stroke="#000" stroke-width="1.0"/>
<line x1="41.70" y1="214.50" x2="46.50" y2="214.50" stroke="#000" stroke-width="1.0"/>
<line x1="44.00" y1="309.50" x2="46.50" y2="309.50" stroke="#000" stroke-width="1.0"/>
<line x1="44.00" y1="288.50" x2="46.50" y2="288.50" stroke="#000" stroke-width="1.0"/>
<line x1="44.00" y1="267.50" x2="46.50" y2="267.50" stroke="#000" stroke-width="1.0"/>
<line x1="44.00" y1="246.50" x2="46.50" y2="246.50" stroke="#000" stroke-width="1.0"/>
<line x1="44.00" y1="225.50" x2="46.50" y2="225.50" stroke="#000" stroke-width="1.0"/>
<text x="39.50" y="324.28" font-size="10.5" text-anchor="end">0</text>
<text x="39.50" y="303.13" font-size="10.5" text-anchor="end">1</text>
<text x="39.50" y="281.98" font-size="10.5" text-anchor="end">2</text>
<text x="39.50" y="260.83" font-size="10.5" text-anchor="end">3</text>
<text x="39.50" y="239.68" font-size="10.5" text-anchor="end">4</text>
<text x="39.50" y="218.53" font-size="10.5" text-anchor="end">5</text>
<line x1="46.00" y1="320.50" x2="154.60" y2="320.50" stroke="#000" stroke-width="1.0"/>
<line x1="46.50" y1="320.50" x2="46.50" y2="324.70" stroke="#000" stroke-width="1.0"/>
<line x1="82.50" y1="320.50" x2="82.50" y2="324.70" stroke="#000" stroke-width="1.0"/>
<line x1="118.50" y1="320.50" x2="118.50" y2="324.70" stroke="#000" stroke-width="1.0"/>
<line x1="154.50" y1="320.50" x2="154.50" y2="324.70" stroke="#000" stroke-width="1.0"/>
<line x1="64.50" y1="320.50" x2="64.50" y2="323.00" stroke="#000" stroke-width="1.0"/>
<line x1="100.50" y1="320.50" x2="100.50" y2="323.00" stroke="#000" stroke-width="1.0"/>
<line x1="136.50" y1="320.50" x2="136.50" y2="323.00" stroke="#000" stroke-width="1.0"/>
<text x="46.60" y="337.00" font-size="10.5" text-anchor="middle">0</text>
<text x="82.60" y="337.00" font-size="10.5" text-anchor="middle">0.2</text>
<text x="118.60" y="337.00" font-size="10.5" text-anchor="middle">0.4</text>
<text x="154.60" y="337.00" font-size="10.5" text-anchor="middle">0.6</text>
<text x="67.40" y="347.80" font-size="10.9" textLength="70.3" lengthAdjust="spacingAndGlyphs">Pause time (s)</text>
<line x1="46.60" y1="244.36" x2="89.77" y2="320.50" stroke="#000" stroke-width="1.15"/>
<line x1="46.60" y1="242.67" x2="81.67" y2="320.50" stroke="#000" stroke-width="1.15"/>
<line x1="46.60" y1="242.67" x2="73.60" y2="320.50" stroke="#000" stroke-width="1.15"/>
<circle cx="46.71" cy="241.45" r="2.35" fill="none" stroke="#000" stroke-width="1.15"/>
<circle cx="47.30" cy="241.96" r="2.35" fill="none" stroke="#000" stroke-width="1.15"/>
<circle cx="47.55" cy="242.48" r="2.35" fill="none" stroke="#000" stroke-width="1.15"/>
<circle cx="47.84" cy="243.02" r="2.35" fill="none" stroke="#000" stroke-width="1.15"/>
<circle cx="47.86" cy="243.57" r="2.35" fill="none" stroke="#000" stroke-width="1.15"/>
<circle cx="48.36" cy="244.13" r="2.35" fill="none" stroke="#000" stroke-width="1.15"/>
<circle cx="47.72" cy="244.71" r="2.35" fill="none" stroke="#000" stroke-width="1.15"/>
<circle cx="48.83" cy="245.30" r="2.35" fill="none" stroke="#000" stroke-width="1.15"/>
<circle cx="48.57" cy="245.92" r="2.35" fill="none" stroke="#000" stroke-width="1.15"/>
<circle cx="49.20" cy="246.55" r="2.35" fill="none" stroke="#000" stroke-width="1.15"/>
<circle cx="48.95" cy="247.20" r="2.35" fill="none" stroke="#000" stroke-width="1.15"/>
<circle cx="49.45" cy="247.87" r="2.35" fill="#fff" stroke="#000" stroke-width="1.15"/>
<circle cx="49.91" cy="248.56" r="2.35" fill="#fff" stroke="#000" stroke-width="1.15"/>
<circle cx="50.21" cy="249.28" r="2.35" fill="#fff" stroke="#000" stroke-width="1.15"/>
<circle cx="50.82" cy="250.02" r="2.35" fill="#fff" stroke="#000" stroke-width="1.15"/>
<circle cx="51.34" cy="250.79" r="2.35" fill="#fff" stroke="#000" stroke-width="1.15"/>
<circle cx="51.92" cy="251.59" r="2.35" fill="#fff" stroke="#000" stroke-width="1.15"/>
<circle cx="52.23" cy="252.42" r="2.35" fill="#fff" stroke="#000" stroke-width="1.15"/>
<circle cx="52.08" cy="253.28" r="2.35" fill="#fff" stroke="#000" stroke-width="1.15"/>
<circle cx="53.28" cy="254.18" r="2.35" fill="#fff" stroke="#000" stroke-width="1.15"/>
<circle cx="53.81" cy="255.12" r="2.35" fill="#fff" stroke="#000" stroke-width="1.15"/>
<circle cx="53.84" cy="256.11" r="2.35" fill="#fff" stroke="#000" stroke-width="1.15"/>
<circle cx="55.06" cy="257.14" r="2.35" fill="#fff" stroke="#000" stroke-width="1.15"/>
<circle cx="55.59" cy="258.23" r="2.35" fill="#fff" stroke="#000" stroke-width="1.15"/>
<circle cx="56.35" cy="259.37" r="2.35" fill="#fff" stroke="#000" stroke-width="1.15"/>
<circle cx="56.06" cy="260.58" r="2.35" fill="#fff" stroke="#000" stroke-width="1.15"/>
<circle cx="56.99" cy="261.86" r="2.35" fill="#fff" stroke="#000" stroke-width="1.15"/>
<circle cx="58.64" cy="263.22" r="2.35" fill="#fff" stroke="#000" stroke-width="1.15"/>
<circle cx="58.96" cy="264.68" r="2.35" fill="#fff" stroke="#000" stroke-width="1.15"/>
<circle cx="59.91" cy="266.25" r="2.35" fill="#fff" stroke="#000" stroke-width="1.15"/>
<circle cx="60.93" cy="267.94" r="2.35" fill="#fff" stroke="#000" stroke-width="1.15"/>
<circle cx="61.95" cy="269.78" r="2.35" fill="#fff" stroke="#000" stroke-width="1.15"/>
<circle cx="63.08" cy="271.80" r="2.35" fill="#fff" stroke="#000" stroke-width="1.15"/>
<circle cx="64.98" cy="274.03" r="2.35" fill="#fff" stroke="#000" stroke-width="1.15"/>
<circle cx="65.83" cy="276.52" r="2.35" fill="#fff" stroke="#000" stroke-width="1.15"/>
<circle cx="67.18" cy="279.34" r="2.35" fill="#fff" stroke="#000" stroke-width="1.15"/>
<circle cx="69.18" cy="282.60" r="2.35" fill="#fff" stroke="#000" stroke-width="1.15"/>
<circle cx="71.76" cy="286.46" r="2.35" fill="#fff" stroke="#000" stroke-width="1.15"/>
<circle cx="74.12" cy="291.18" r="2.35" fill="#fff" stroke="#000" stroke-width="1.15"/>
<circle cx="77.84" cy="297.26" r="2.35" fill="#fff" stroke="#000" stroke-width="1.15"/>
<circle cx="82.32" cy="305.84" r="2.35" fill="#fff" stroke="#000" stroke-width="1.15"/>
<circle cx="87.66" cy="320.50" r="2.35" fill="#fff" stroke="#000" stroke-width="1.15"/>
<polygon points="49.32,241.45 44.59,238.98 44.59,243.92" fill="none" stroke="#000" stroke-width="1.15"/>
<polygon points="49.30,241.96 44.57,239.49 44.57,244.43" fill="none" stroke="#000" stroke-width="1.15"/>
<polygon points="50.06,242.48 45.33,240.01 45.33,244.95" fill="none" stroke="#000" stroke-width="1.15"/>
<polygon points="50.37,243.02 45.64,240.55 45.64,245.48" fill="none" stroke="#000" stroke-width="1.15"/>
<polygon points="49.58,243.57 44.85,241.10 44.85,246.03" fill="none" stroke="#000" stroke-width="1.15"/>
<polygon points="49.84,244.13 45.11,241.66 45.11,246.60" fill="none" stroke="#000" stroke-width="1.15"/>
<polygon points="50.04,244.71 45.31,242.24 45.31,247.18" fill="none" stroke="#000" stroke-width="1.15"/>
<polygon points="50.17,245.30 45.44,242.84 45.44,247.77" fill="none" stroke="#000" stroke-width="1.15"/>
<polygon points="50.32,245.92 45.59,243.45 45.59,248.38" fill="none" stroke="#000" stroke-width="1.15"/>
<polygon points="51.38,246.55 46.65,244.08 46.65,249.02" fill="none" stroke="#000" stroke-width="1.15"/>
<polygon points="51.27,247.20 46.55,244.73 46.55,249.67" fill="none" stroke="#000" stroke-width="1.15"/>
<polygon points="51.45,247.87 46.72,245.40 46.72,250.34" fill="#fff" stroke="#000" stroke-width="1.15"/>
<polygon points="51.80,248.56 47.07,246.10 47.07,251.03" fill="#fff" stroke="#000" stroke-width="1.15"/>
<polygon points="51.77,249.28 47.04,246.81 47.04,251.75" fill="#fff" stroke="#000" stroke-width="1.15"/>
<polygon points="52.03,250.02 47.30,247.56 47.30,252.49" fill="#fff" stroke="#000" stroke-width="1.15"/>
<polygon points="52.06,250.79 47.33,248.33 47.33,253.26" fill="#fff" stroke="#000" stroke-width="1.15"/>
<polygon points="53.21,251.59 48.48,249.12 48.48,254.06" fill="#fff" stroke="#000" stroke-width="1.15"/>
<polygon points="53.24,252.42 48.51,249.95 48.51,254.89" fill="#fff" stroke="#000" stroke-width="1.15"/>
<polygon points="52.87,253.28 48.14,250.82 48.14,255.75" fill="#fff" stroke="#000" stroke-width="1.15"/>
<polygon points="54.06,254.18 49.33,251.72 49.33,256.65" fill="#fff" stroke="#000" stroke-width="1.15"/>
<polygon points="54.37,255.12 49.64,252.66 49.64,257.59" fill="#fff" stroke="#000" stroke-width="1.15"/>
<polygon points="54.83,256.11 50.10,253.64 50.10,258.58" fill="#fff" stroke="#000" stroke-width="1.15"/>
<polygon points="55.05,257.14 50.32,254.67 50.32,259.61" fill="#fff" stroke="#000" stroke-width="1.15"/>
<polygon points="54.75,258.23 50.02,255.76 50.02,260.69" fill="#fff" stroke="#000" stroke-width="1.15"/>
<polygon points="55.83,259.37 51.10,256.90 51.10,261.84" fill="#fff" stroke="#000" stroke-width="1.15"/>
<polygon points="55.94,260.58 51.21,258.11 51.21,263.05" fill="#fff" stroke="#000" stroke-width="1.15"/>
<polygon points="56.01,261.86 51.28,259.39 51.28,264.33" fill="#fff" stroke="#000" stroke-width="1.15"/>
<polygon points="56.64,263.22 51.92,260.76 51.92,265.69" fill="#fff" stroke="#000" stroke-width="1.15"/>
<polygon points="57.61,264.68 52.88,262.22 52.88,267.15" fill="#fff" stroke="#000" stroke-width="1.15"/>
<polygon points="57.81,266.25 53.08,263.78 53.08,268.72" fill="#fff" stroke="#000" stroke-width="1.15"/>
<polygon points="58.80,267.94 54.07,265.48 54.07,270.41" fill="#fff" stroke="#000" stroke-width="1.15"/>
<polygon points="58.77,269.78 54.04,267.32 54.04,272.25" fill="#fff" stroke="#000" stroke-width="1.15"/>
<polygon points="59.55,271.80 54.82,269.33 54.82,274.27" fill="#fff" stroke="#000" stroke-width="1.15"/>
<polygon points="60.60,274.03 55.87,271.56 55.87,276.50" fill="#fff" stroke="#000" stroke-width="1.15"/>
<polygon points="61.80,276.52 57.08,274.05 57.08,278.99" fill="#fff" stroke="#000" stroke-width="1.15"/>
<polygon points="62.26,279.34 57.53,276.88 57.53,281.81" fill="#fff" stroke="#000" stroke-width="1.15"/>
<polygon points="63.67,282.60 58.94,280.14 58.94,285.07" fill="#fff" stroke="#000" stroke-width="1.15"/>
<polygon points="65.35,286.46 60.62,283.99 60.62,288.93" fill="#fff" stroke="#000" stroke-width="1.15"/>
<polygon points="66.82,291.18 62.10,288.71 62.10,293.65" fill="#fff" stroke="#000" stroke-width="1.15"/>
<polygon points="69.38,297.26 64.65,294.80 64.65,299.73" fill="#fff" stroke="#000" stroke-width="1.15"/>
<polygon points="76.16,305.84 71.43,303.37 71.43,308.31" fill="#fff" stroke="#000" stroke-width="1.15"/>
<polygon points="79.38,320.50 74.65,318.03 74.65,322.97" fill="#fff" stroke="#000" stroke-width="1.15"/>
<polygon points="46.95,238.75 49.42,243.48 44.48,243.48" fill="none" stroke="#000" stroke-width="1.15" stroke-linejoin="miter"/>
<polygon points="46.60,239.26 49.07,243.98 44.13,243.98" fill="none" stroke="#000" stroke-width="1.15" stroke-linejoin="miter"/>
<polygon points="46.81,239.78 49.28,244.51 44.34,244.51" fill="none" stroke="#000" stroke-width="1.15" stroke-linejoin="miter"/>
<polygon points="46.72,240.31 49.18,245.04 44.25,245.04" fill="none" stroke="#000" stroke-width="1.15" stroke-linejoin="miter"/>
<polygon points="47.41,240.86 49.88,245.59 44.94,245.59" fill="none" stroke="#000" stroke-width="1.15" stroke-linejoin="miter"/>
<polygon points="47.66,241.43 50.13,246.16 45.19,246.16" fill="none" stroke="#000" stroke-width="1.15" stroke-linejoin="miter"/>
<polygon points="47.23,242.01 49.69,246.74 44.76,246.74" fill="none" stroke="#000" stroke-width="1.15" stroke-linejoin="miter"/>
<polygon points="47.97,242.60 50.44,247.33 45.50,247.33" fill="none" stroke="#000" stroke-width="1.15" stroke-linejoin="miter"/>
<polygon points="48.05,243.21 50.52,247.94 45.58,247.94" fill="none" stroke="#000" stroke-width="1.15" stroke-linejoin="miter"/>
<polygon points="47.70,243.85 50.17,248.58 45.24,248.58" fill="none" stroke="#000" stroke-width="1.15" stroke-linejoin="miter"/>
<polygon points="47.85,244.50 50.32,249.23 45.39,249.23" fill="none" stroke="#000" stroke-width="1.15" stroke-linejoin="miter"/>
<polygon points="47.63,245.17 50.09,249.90 45.16,249.90" fill="#fff" stroke="#000" stroke-width="1.15" stroke-linejoin="miter"/>
<polygon points="48.46,245.86 50.93,250.59 45.99,250.59" fill="#fff" stroke="#000" stroke-width="1.15" stroke-linejoin="miter"/>
<polygon points="48.45,246.58 50.92,251.31 45.98,251.31" fill="#fff" stroke="#000" stroke-width="1.15" stroke-linejoin="miter"/>
<polygon points="48.31,247.32 50.78,252.05 45.84,252.05" fill="#fff" stroke="#000" stroke-width="1.15" stroke-linejoin="miter"/>
<polygon points="48.72,248.09 51.19,252.82 46.25,252.82" fill="#fff" stroke="#000" stroke-width="1.15" stroke-linejoin="miter"/>
<polygon points="49.15,248.89 51.62,253.62 46.69,253.62" fill="#fff" stroke="#000" stroke-width="1.15" stroke-linejoin="miter"/>
<polygon points="49.05,249.72 51.52,254.45 46.58,254.45" fill="#fff" stroke="#000" stroke-width="1.15" stroke-linejoin="miter"/>
<polygon points="49.55,250.58 52.02,255.31 47.09,255.31" fill="#fff" stroke="#000" stroke-width="1.15" stroke-linejoin="miter"/>
<polygon points="49.54,251.48 52.00,256.21 47.07,256.21" fill="#fff" stroke="#000" stroke-width="1.15" stroke-linejoin="miter"/>
<polygon points="49.62,252.42 52.09,257.15 47.15,257.15" fill="#fff" stroke="#000" stroke-width="1.15" stroke-linejoin="miter"/>
<polygon points="49.91,253.41 52.38,258.14 47.44,258.14" fill="#fff" stroke="#000" stroke-width="1.15" stroke-linejoin="miter"/>
<polygon points="50.36,254.44 52.83,259.17 47.89,259.17" fill="#fff" stroke="#000" stroke-width="1.15" stroke-linejoin="miter"/>
<polygon points="50.88,255.52 53.34,260.25 48.41,260.25" fill="#fff" stroke="#000" stroke-width="1.15" stroke-linejoin="miter"/>
<polygon points="50.76,256.67 53.23,261.40 48.29,261.40" fill="#fff" stroke="#000" stroke-width="1.15" stroke-linejoin="miter"/>
<polygon points="51.56,257.88 54.02,262.60 49.09,262.60" fill="#fff" stroke="#000" stroke-width="1.15" stroke-linejoin="miter"/>
<polygon points="51.75,259.16 54.21,263.89 49.28,263.89" fill="#fff" stroke="#000" stroke-width="1.15" stroke-linejoin="miter"/>
<polygon points="51.90,260.52 54.37,265.25 49.43,265.25" fill="#fff" stroke="#000" stroke-width="1.15" stroke-linejoin="miter"/>
<polygon points="52.13,261.98 54.59,266.71 49.66,266.71" fill="#fff" stroke="#000" stroke-width="1.15" stroke-linejoin="miter"/>
<polygon points="52.49,263.55 54.95,268.28 50.02,268.28" fill="#fff" stroke="#000" stroke-width="1.15" stroke-linejoin="miter"/>
<polygon points="53.32,265.24 55.78,269.97 50.85,269.97" fill="#fff" stroke="#000" stroke-width="1.15" stroke-linejoin="miter"/>
<polygon points="54.23,267.08 56.69,271.81 51.76,271.81" fill="#fff" stroke="#000" stroke-width="1.15" stroke-linejoin="miter"/>
<polygon points="54.65,269.10 57.12,273.83 52.19,273.83" fill="#fff" stroke="#000" stroke-width="1.15" stroke-linejoin="miter"/>
<polygon points="54.85,271.33 57.32,276.06 52.38,276.06" fill="#fff" stroke="#000" stroke-width="1.15" stroke-linejoin="miter"/>
<polygon points="55.81,273.82 58.28,278.55 53.35,278.55" fill="#fff" stroke="#000" stroke-width="1.15" stroke-linejoin="miter"/>
<polygon points="56.56,276.64 59.03,281.37 54.10,281.37" fill="#fff" stroke="#000" stroke-width="1.15" stroke-linejoin="miter"/>
<polygon points="57.88,279.90 60.34,284.63 55.41,284.63" fill="#fff" stroke="#000" stroke-width="1.15" stroke-linejoin="miter"/>
<polygon points="59.45,283.76 61.92,288.49 56.99,288.49" fill="#fff" stroke="#000" stroke-width="1.15" stroke-linejoin="miter"/>
<polygon points="61.15,288.48 63.62,293.21 58.69,293.21" fill="#fff" stroke="#000" stroke-width="1.15" stroke-linejoin="miter"/>
<polygon points="62.97,294.56 65.44,299.29 60.50,299.29" fill="#fff" stroke="#000" stroke-width="1.15" stroke-linejoin="miter"/>
<polygon points="66.17,303.14 68.64,307.87 63.71,307.87" fill="#fff" stroke="#000" stroke-width="1.15" stroke-linejoin="miter"/>
<polygon points="69.08,317.80 71.55,322.53 66.61,322.53" fill="#fff" stroke="#000" stroke-width="1.15" stroke-linejoin="miter"/>
<text x="13.30" y="268.80" font-size="10.6" text-anchor="middle" textLength="78.1" lengthAdjust="spacingAndGlyphs" transform="rotate(-90 13.30 268.80)">Number of bead</text>
<text x="24.30" y="268.80" font-size="10.6" text-anchor="middle" textLength="97.4" lengthAdjust="spacingAndGlyphs" transform="rotate(-90 24.30 268.80)">tethering events (ln)</text>
<text x="0.30" y="206.60" font-size="17.5" font-weight="bold">C</text>
<text x="151.80" y="218.00" font-size="8.3" textLength="72.3" lengthAdjust="spacingAndGlyphs">rVWF-A1 (R1326H)</text>
<line x1="145.90" y1="221.50" x2="228.40" y2="221.50" stroke="#000" stroke-width="1.0"/>
<text x="0" y="0" transform="translate(135.30 233.40) scale(0.93 1)" font-size="8.6">shear stress</text>
<text x="0" y="0" transform="translate(139.50 244.00) scale(0.95 1)" font-size="8.6">(dyn/cm<tspan font-size="6.6" dy="-3.4">2</tspan><tspan dy="3.4">)</tspan></text>
<text x="194.50" y="232.80" font-size="8.5" font-style="italic">k<tspan font-size="5.8" dy="1.5">off</tspan></text>
<text x="0" y="0" transform="translate(193.00 244.00) scale(0.95 1)" font-size="8.6">(s<tspan font-size="6.6" dy="-3.4">-1</tspan><tspan dy="3.4">)</tspan></text>
<text x="0" y="0" transform="translate(223.00 239.00) scale(0.93 1)" font-size="8.8">R<tspan font-size="6" dy="-3.5">2</tspan></text>
<circle cx="146.90" cy="255.40" r="2.35" fill="#fff" stroke="#000" stroke-width="1.15"/>
<text x="0" y="0" transform="translate(155.40 258.50) scale(0.91 1)" font-size="8.8">1.0</text>
<text x="0" y="0" transform="translate(208.70 258.50) scale(0.91 1)" font-size="8.8" text-anchor="end">15.01</text>
<text x="0" y="0" transform="translate(222.00 258.50) scale(0.91 1)" font-size="8.8">0.99</text>
<polygon points="149.60,270.40 144.87,267.93 144.87,272.87" fill="#fff" stroke="#000" stroke-width="1.15"/>
<text x="0" y="0" transform="translate(155.40 273.50) scale(0.91 1)" font-size="8.8">1.25</text>
<text x="0" y="0" transform="translate(208.70 273.50) scale(0.91 1)" font-size="8.8" text-anchor="end">18.89</text>
<text x="0" y="0" transform="translate(222.00 273.50) scale(0.91 1)" font-size="8.8">0.98</text>
<polygon points="146.90,283.00 149.37,287.73 144.43,287.73" fill="#fff" stroke="#000" stroke-width="1.15" stroke-linejoin="miter"/>
<text x="0" y="0" transform="translate(155.40 288.80) scale(0.91 1)" font-size="8.8">1.5</text>
<text x="0" y="0" transform="translate(208.70 288.80) scale(0.91 1)" font-size="8.8" text-anchor="end">24.53</text>
<text x="0" y="0" transform="translate(222.00 288.80) scale(0.91 1)" font-size="8.8">0.98</text>
<line x1="342.50" y1="217.70" x2="342.50" y2="321.50" stroke="#000" stroke-width="1.0"/>
<line x1="337.70" y1="321.50" x2="342.50" y2="321.50" stroke="#000" stroke-width="1.0"/>
<line x1="337.70" y1="295.50" x2="342.50" y2="295.50" stroke="#000" stroke-width="1.0"/>
<line x1="337.70" y1="269.50" x2="342.50" y2="269.50" stroke="#000" stroke-width="1.0"/>
<line x1="337.70" y1="243.50" x2="342.50" y2="243.50" stroke="#000" stroke-width="1.0"/>
<line x1="337.70" y1="218.50" x2="342.50" y2="218.50" stroke="#000" stroke-width="1.0"/>
<text x="337.40" y="324.60" font-size="10" text-anchor="end">0</text>
<text x="337.40" y="298.90" font-size="10" text-anchor="end">1</text>
<text x="337.40" y="273.20" font-size="10" text-anchor="end">2</text>
<text x="337.40" y="247.50" font-size="10" text-anchor="end">3</text>
<text x="337.40" y="221.80" font-size="10" text-anchor="end">4</text>
<line x1="342.00" y1="321.50" x2="445.60" y2="321.50" stroke="#000" stroke-width="1.0"/>
<line x1="342.50" y1="321.50" x2="342.50" y2="325.70" stroke="#000" stroke-width="1.0"/>
<line x1="367.50" y1="321.50" x2="367.50" y2="325.70" stroke="#000" stroke-width="1.0"/>
<line x1="393.50" y1="321.50" x2="393.50" y2="325.70" stroke="#000" stroke-width="1.0"/>
<line x1="419.50" y1="321.50" x2="419.50" y2="325.70" stroke="#000" stroke-width="1.0"/>
<line x1="445.50" y1="321.50" x2="445.50" y2="325.70" stroke="#000" stroke-width="1.0"/>
<line x1="354.50" y1="321.50" x2="354.50" y2="324.00" stroke="#000" stroke-width="1.0"/>
<line x1="380.50" y1="321.50" x2="380.50" y2="324.00" stroke="#000" stroke-width="1.0"/>
<line x1="406.50" y1="321.50" x2="406.50" y2="324.00" stroke="#000" stroke-width="1.0"/>
<line x1="432.50" y1="321.50" x2="432.50" y2="324.00" stroke="#000" stroke-width="1.0"/>
<text x="342.00" y="336.30" font-size="10" text-anchor="middle">0</text>
<text x="367.90" y="336.30" font-size="10" text-anchor="middle">2</text>
<text x="393.80" y="336.30" font-size="10" text-anchor="middle">4</text>
<text x="419.70" y="336.30" font-size="10" text-anchor="middle">6</text>
<text x="445.60" y="336.30" font-size="10" text-anchor="middle">8</text>
<text x="358.60" y="347.60" font-size="10.9" textLength="70.6" lengthAdjust="spacingAndGlyphs">Pause time (s)</text>
<line x1="342.00" y1="217.69" x2="434.96" y2="321.00" stroke="#000" stroke-width="1.15"/>
<line x1="342.00" y1="216.40" x2="414.20" y2="321.00" stroke="#000" stroke-width="1.15"/>
<line x1="342.00" y1="224.11" x2="383.03" y2="321.00" stroke="#000" stroke-width="1.15"/>
<line x1="342.00" y1="227.45" x2="372.61" y2="321.00" stroke="#000" stroke-width="1.15"/>
<rect x="341.65" y="221.07" width="4.20" height="4.20" fill="#fff" stroke="#000" stroke-width="1.15"/>
<rect x="342.19" y="221.65" width="4.20" height="4.20" fill="#fff" stroke="#000" stroke-width="1.15"/>
<rect x="342.84" y="222.24" width="4.20" height="4.20" fill="#fff" stroke="#000" stroke-width="1.15"/>
<rect x="343.59" y="222.84" width="4.20" height="4.20" fill="#fff" stroke="#000" stroke-width="1.15"/>
<rect x="344.78" y="223.46" width="4.20" height="4.20" fill="#fff" stroke="#000" stroke-width="1.15"/>
<rect x="345.35" y="224.10" width="4.20" height="4.20" fill="#fff" stroke="#000" stroke-width="1.15"/>
<rect x="345.64" y="224.75" width="4.20" height="4.20" fill="#fff" stroke="#000" stroke-width="1.15"/>
<rect x="346.60" y="225.41" width="4.20" height="4.20" fill="#fff" stroke="#000" stroke-width="1.15"/>
<rect x="348.07" y="226.10" width="4.20" height="4.20" fill="#fff" stroke="#000" stroke-width="1.15"/>
<rect x="350.24" y="226.80" width="4.20" height="4.20" fill="#fff" stroke="#000" stroke-width="1.15"/>
<rect x="351.36" y="227.53" width="4.20" height="4.20" fill="#fff" stroke="#000" stroke-width="1.15"/>
<rect x="352.55" y="228.27" width="4.20" height="4.20" fill="#fff" stroke="#000" stroke-width="1.15"/>
<rect x="353.75" y="229.04" width="4.20" height="4.20" fill="#fff" stroke="#000" stroke-width="1.15"/>
<rect x="356.41" y="229.83" width="4.20" height="4.20" fill="#fff" stroke="#000" stroke-width="1.15"/>
<rect x="357.76" y="230.65" width="4.20" height="4.20" fill="#fff" stroke="#000" stroke-width="1.15"/>
<rect x="358.56" y="231.49" width="4.20" height="4.20" fill="#fff" stroke="#000" stroke-width="1.15"/>
<rect x="360.94" y="232.36" width="4.20" height="4.20" fill="#fff" stroke="#000" stroke-width="1.15"/>
<rect x="361.26" y="233.26" width="4.20" height="4.20" fill="#fff" stroke="#000" stroke-width="1.15"/>
<rect x="362.19" y="234.20" width="4.20" height="4.20" fill="#fff" stroke="#000" stroke-width="1.15"/>
<rect x="361.87" y="235.17" width="4.20" height="4.20" fill="#fff" stroke="#000" stroke-width="1.15"/>
<rect x="363.51" y="236.17" width="4.20" height="4.20" fill="#fff" stroke="#000" stroke-width="1.15"/>
<rect x="363.92" y="237.22" width="4.20" height="4.20" fill="#fff" stroke="#000" stroke-width="1.15"/>
<rect x="365.19" y="238.32" width="4.20" height="4.20" fill="#fff" stroke="#000" stroke-width="1.15"/>
<rect x="365.86" y="239.46" width="4.20" height="4.20" fill="#fff" stroke="#000" stroke-width="1.15"/>
<rect x="366.51" y="240.66" width="4.20" height="4.20" fill="#fff" stroke="#000" stroke-width="1.15"/>
<rect x="367.63" y="241.91" width="4.20" height="4.20" fill="#fff" stroke="#000" stroke-width="1.15"/>
<rect x="367.64" y="243.23" width="4.20" height="4.20" fill="#fff" stroke="#000" stroke-width="1.15"/>
<rect x="369.57" y="244.62" width="4.20" height="4.20" fill="#fff" stroke="#000" stroke-width="1.15"/>
<rect x="369.37" y="246.09" width="4.20" height="4.20" fill="#fff" stroke="#000" stroke-width="1.15"/>
<rect x="370.25" y="247.64" width="4.20" height="4.20" fill="#fff" stroke="#000" stroke-width="1.15"/>
<rect x="371.89" y="249.30" width="4.20" height="4.20" fill="#fff" stroke="#000" stroke-width="1.15"/>
<rect x="371.65" y="251.08" width="4.20" height="4.20" fill="#fff" stroke="#000" stroke-width="1.15"/>
<rect x="372.48" y="252.98" width="4.20" height="4.20" fill="#fff" stroke="#000" stroke-width="1.15"/>
<rect x="373.32" y="255.04" width="4.20" height="4.20" fill="#fff" stroke="#000" stroke-width="1.15"/>
<rect x="375.26" y="257.27" width="4.20" height="4.20" fill="#fff" stroke="#000" stroke-width="1.15"/>
<rect x="376.12" y="259.72" width="4.20" height="4.20" fill="#fff" stroke="#000" stroke-width="1.15"/>
<rect x="377.79" y="262.43" width="4.20" height="4.20" fill="#fff" stroke="#000" stroke-width="1.15"/>
<rect x="380.82" y="265.46" width="4.20" height="4.20" fill="#fff" stroke="#000" stroke-width="1.15"/>
<rect x="383.23" y="268.89" width="4.20" height="4.20" fill="#fff" stroke="#000" stroke-width="1.15"/>
<rect x="387.33" y="272.85" width="4.20" height="4.20" fill="#fff" stroke="#000" stroke-width="1.15"/>
<rect x="391.66" y="277.54" width="4.20" height="4.20" fill="#fff" stroke="#000" stroke-width="1.15"/>
<rect x="396.55" y="283.27" width="4.20" height="4.20" fill="#fff" stroke="#000" stroke-width="1.15"/>
<rect x="409.72" y="290.67" width="4.20" height="4.20" fill="#fff" stroke="#000" stroke-width="1.15"/>
<rect x="417.65" y="301.09" width="4.20" height="4.20" fill="#fff" stroke="#000" stroke-width="1.15"/>
<rect x="427.26" y="318.90" width="4.20" height="4.20" fill="#fff" stroke="#000" stroke-width="1.15"/>
<polygon points="341.78,223.17 346.00,220.96 346.00,225.37" fill="#fff" stroke="#000" stroke-width="1.15"/>
<polygon points="340.99,223.75 345.22,221.54 345.22,225.95" fill="#fff" stroke="#000" stroke-width="1.15"/>
<polygon points="342.26,224.34 346.49,222.13 346.49,226.54" fill="#fff" stroke="#000" stroke-width="1.15"/>
<polygon points="342.15,224.94 346.37,222.74 346.37,227.15" fill="#fff" stroke="#000" stroke-width="1.15"/>
<polygon points="342.67,225.56 346.90,223.36 346.90,227.77" fill="#fff" stroke="#000" stroke-width="1.15"/>
<polygon points="342.92,226.20 347.15,223.99 347.15,228.40" fill="#fff" stroke="#000" stroke-width="1.15"/>
<polygon points="343.70,226.85 347.92,224.64 347.92,229.05" fill="#fff" stroke="#000" stroke-width="1.15"/>
<polygon points="344.36,227.51 348.59,225.31 348.59,229.72" fill="#fff" stroke="#000" stroke-width="1.15"/>
<polygon points="344.34,228.20 348.57,225.99 348.57,230.40" fill="#fff" stroke="#000" stroke-width="1.15"/>
<polygon points="345.19,228.90 349.41,226.70 349.41,231.11" fill="#fff" stroke="#000" stroke-width="1.15"/>
<polygon points="345.86,229.63 350.09,227.42 350.09,231.83" fill="#fff" stroke="#000" stroke-width="1.15"/>
<polygon points="346.90,230.37 351.12,228.17 351.12,232.58" fill="#fff" stroke="#000" stroke-width="1.15"/>
<polygon points="347.90,231.14 352.12,228.93 352.12,233.34" fill="#fff" stroke="#000" stroke-width="1.15"/>
<polygon points="348.07,231.93 352.30,229.73 352.30,234.14" fill="#fff" stroke="#000" stroke-width="1.15"/>
<polygon points="349.22,232.75 353.45,230.54 353.45,234.95" fill="#fff" stroke="#000" stroke-width="1.15"/>
<polygon points="349.49,233.59 353.72,231.38 353.72,235.79" fill="#fff" stroke="#000" stroke-width="1.15"/>
<polygon points="351.16,234.46 355.39,232.26 355.39,236.67" fill="#fff" stroke="#000" stroke-width="1.15"/>
<polygon points="351.68,235.36 355.90,233.16 355.90,237.57" fill="#fff" stroke="#000" stroke-width="1.15"/>
<polygon points="351.97,236.30 356.19,234.09 356.19,238.50" fill="#fff" stroke="#000" stroke-width="1.15"/>
<polygon points="352.99,237.27 357.22,235.06 357.22,239.47" fill="#fff" stroke="#000" stroke-width="1.15"/>
<polygon points="354.29,238.27 358.52,236.07 358.52,240.48" fill="#fff" stroke="#000" stroke-width="1.15"/>
<polygon points="354.77,239.32 359.00,237.12 359.00,241.53" fill="#fff" stroke="#000" stroke-width="1.15"/>
<polygon points="355.72,240.42 359.95,238.21 359.95,242.62" fill="#fff" stroke="#000" stroke-width="1.15"/>
<polygon points="356.52,241.56 360.74,239.36 360.74,243.77" fill="#fff" stroke="#000" stroke-width="1.15"/>
<polygon points="358.15,242.76 362.38,240.55 362.38,244.96" fill="#fff" stroke="#000" stroke-width="1.15"/>
<polygon points="358.78,244.01 363.01,241.80 363.01,246.21" fill="#fff" stroke="#000" stroke-width="1.15"/>
<polygon points="359.91,245.33 364.14,243.12 364.14,247.53" fill="#fff" stroke="#000" stroke-width="1.15"/>
<polygon points="361.52,246.72 365.75,244.51 365.75,248.92" fill="#fff" stroke="#000" stroke-width="1.15"/>
<polygon points="362.30,248.19 366.52,245.98 366.52,250.39" fill="#fff" stroke="#000" stroke-width="1.15"/>
<polygon points="362.31,249.74 366.53,247.54 366.53,251.95" fill="#fff" stroke="#000" stroke-width="1.15"/>
<polygon points="363.28,251.40 367.51,249.20 367.51,253.61" fill="#fff" stroke="#000" stroke-width="1.15"/>
<polygon points="365.22,253.18 369.45,250.97 369.45,255.38" fill="#fff" stroke="#000" stroke-width="1.15"/>
<polygon points="365.94,255.08 370.16,252.88 370.16,257.29" fill="#fff" stroke="#000" stroke-width="1.15"/>
<polygon points="366.86,257.14 371.09,254.93 371.09,259.34" fill="#fff" stroke="#000" stroke-width="1.15"/>
<polygon points="368.12,259.37 372.35,257.17 372.35,261.58" fill="#fff" stroke="#000" stroke-width="1.15"/>
<polygon points="369.56,261.82 373.79,259.62 373.79,264.03" fill="#fff" stroke="#000" stroke-width="1.15"/>
<polygon points="371.03,264.53 375.26,262.33 375.26,266.74" fill="#fff" stroke="#000" stroke-width="1.15"/>
<polygon points="372.47,267.56 376.70,265.35 376.70,269.76" fill="#fff" stroke="#000" stroke-width="1.15"/>
<polygon points="373.71,270.99 377.94,268.79 377.94,273.20" fill="#fff" stroke="#000" stroke-width="1.15"/>
<polygon points="377.03,274.95 381.26,272.75 381.26,277.16" fill="#fff" stroke="#000" stroke-width="1.15"/>
<polygon points="379.63,279.64 383.86,277.43 383.86,281.84" fill="#fff" stroke="#000" stroke-width="1.15"/>
<polygon points="385.60,285.37 389.83,283.17 389.83,287.58" fill="#fff" stroke="#000" stroke-width="1.15"/>
<polygon points="391.03,292.77 395.26,290.56 395.26,294.97" fill="#fff" stroke="#000" stroke-width="1.15"/>
<polygon points="400.74,303.19 404.96,300.98 404.96,305.39" fill="#fff" stroke="#000" stroke-width="1.15"/>
<polygon points="408.89,321.00 413.12,318.80 413.12,323.20" fill="#fff" stroke="#000" stroke-width="1.15"/>
<polygon points="343.77,220.75 345.97,224.98 341.56,224.98" fill="#fff" stroke="#000" stroke-width="1.15" stroke-linejoin="miter"/>
<polygon points="343.47,221.33 345.67,225.56 341.26,225.56" fill="#fff" stroke="#000" stroke-width="1.15" stroke-linejoin="miter"/>
<polygon points="343.30,221.92 345.50,226.15 341.09,226.15" fill="#fff" stroke="#000" stroke-width="1.15" stroke-linejoin="miter"/>
<polygon points="343.60,222.53 345.81,226.75 341.40,226.75" fill="#fff" stroke="#000" stroke-width="1.15" stroke-linejoin="miter"/>
<polygon points="343.68,223.15 345.88,227.37 341.47,227.37" fill="#fff" stroke="#000" stroke-width="1.15" stroke-linejoin="miter"/>
<polygon points="343.70,223.78 345.90,228.01 341.49,228.01" fill="#fff" stroke="#000" stroke-width="1.15" stroke-linejoin="miter"/>
<polygon points="343.49,224.43 345.70,228.66 341.29,228.66" fill="#fff" stroke="#000" stroke-width="1.15" stroke-linejoin="miter"/>
<polygon points="344.32,225.10 346.52,229.33 342.11,229.33" fill="#fff" stroke="#000" stroke-width="1.15" stroke-linejoin="miter"/>
<polygon points="344.36,225.78 346.56,230.01 342.15,230.01" fill="#fff" stroke="#000" stroke-width="1.15" stroke-linejoin="miter"/>
<polygon points="344.27,226.49 346.47,230.71 342.06,230.71" fill="#fff" stroke="#000" stroke-width="1.15" stroke-linejoin="miter"/>
<polygon points="344.35,227.21 346.55,231.44 342.14,231.44" fill="#fff" stroke="#000" stroke-width="1.15" stroke-linejoin="miter"/>
<polygon points="345.06,227.96 347.26,232.18 342.85,232.18" fill="#fff" stroke="#000" stroke-width="1.15" stroke-linejoin="miter"/>
<polygon points="344.45,228.72 346.65,232.95 342.24,232.95" fill="#fff" stroke="#000" stroke-width="1.15" stroke-linejoin="miter"/>
<polygon points="344.60,229.52 346.80,233.74 342.39,233.74" fill="#fff" stroke="#000" stroke-width="1.15" stroke-linejoin="miter"/>
<polygon points="345.43,230.33 347.63,234.56 343.22,234.56" fill="#fff" stroke="#000" stroke-width="1.15" stroke-linejoin="miter"/>
<polygon points="345.28,231.17 347.49,235.40 343.08,235.40" fill="#fff" stroke="#000" stroke-width="1.15" stroke-linejoin="miter"/>
<polygon points="345.34,232.05 347.55,236.27 343.14,236.27" fill="#fff" stroke="#000" stroke-width="1.15" stroke-linejoin="miter"/>
<polygon points="346.10,232.95 348.30,237.17 343.89,237.17" fill="#fff" stroke="#000" stroke-width="1.15" stroke-linejoin="miter"/>
<polygon points="345.68,233.88 347.89,238.11 343.48,238.11" fill="#fff" stroke="#000" stroke-width="1.15" stroke-linejoin="miter"/>
<polygon points="346.82,234.85 349.02,239.08 344.61,239.08" fill="#fff" stroke="#000" stroke-width="1.15" stroke-linejoin="miter"/>
<polygon points="347.26,235.86 349.46,240.09 345.05,240.09" fill="#fff" stroke="#000" stroke-width="1.15" stroke-linejoin="miter"/>
<polygon points="347.60,236.91 349.81,241.14 345.40,241.14" fill="#fff" stroke="#000" stroke-width="1.15" stroke-linejoin="miter"/>
<polygon points="347.59,238.00 349.79,242.23 345.38,242.23" fill="#fff" stroke="#000" stroke-width="1.15" stroke-linejoin="miter"/>
<polygon points="348.21,239.15 350.42,243.37 346.01,243.37" fill="#fff" stroke="#000" stroke-width="1.15" stroke-linejoin="miter"/>
<polygon points="348.55,240.34 350.76,244.57 346.35,244.57" fill="#fff" stroke="#000" stroke-width="1.15" stroke-linejoin="miter"/>
<polygon points="349.03,241.59 351.24,245.82 346.83,245.82" fill="#fff" stroke="#000" stroke-width="1.15" stroke-linejoin="miter"/>
<polygon points="350.12,242.91 352.32,247.14 347.91,247.14" fill="#fff" stroke="#000" stroke-width="1.15" stroke-linejoin="miter"/>
<polygon points="350.70,244.30 352.90,248.53 348.49,248.53" fill="#fff" stroke="#000" stroke-width="1.15" stroke-linejoin="miter"/>
<polygon points="350.90,245.77 353.11,250.00 348.70,250.00" fill="#fff" stroke="#000" stroke-width="1.15" stroke-linejoin="miter"/>
<polygon points="351.48,247.33 353.68,251.56 349.27,251.56" fill="#fff" stroke="#000" stroke-width="1.15" stroke-linejoin="miter"/>
<polygon points="351.56,248.99 353.76,253.21 349.35,253.21" fill="#fff" stroke="#000" stroke-width="1.15" stroke-linejoin="miter"/>
<polygon points="352.25,250.76 354.46,254.99 350.05,254.99" fill="#fff" stroke="#000" stroke-width="1.15" stroke-linejoin="miter"/>
<polygon points="353.25,252.67 355.45,256.89 351.04,256.89" fill="#fff" stroke="#000" stroke-width="1.15" stroke-linejoin="miter"/>
<polygon points="354.57,254.72 356.77,258.95 352.36,258.95" fill="#fff" stroke="#000" stroke-width="1.15" stroke-linejoin="miter"/>
<polygon points="355.22,256.96 357.42,261.19 353.01,261.19" fill="#fff" stroke="#000" stroke-width="1.15" stroke-linejoin="miter"/>
<polygon points="355.95,259.41 358.16,263.63 353.75,263.63" fill="#fff" stroke="#000" stroke-width="1.15" stroke-linejoin="miter"/>
<polygon points="357.62,262.12 359.82,266.34 355.41,266.34" fill="#fff" stroke="#000" stroke-width="1.15" stroke-linejoin="miter"/>
<polygon points="358.81,265.14 361.02,269.37 356.61,269.37" fill="#fff" stroke="#000" stroke-width="1.15" stroke-linejoin="miter"/>
<polygon points="359.91,268.58 362.12,272.80 357.71,272.80" fill="#fff" stroke="#000" stroke-width="1.15" stroke-linejoin="miter"/>
<polygon points="361.27,272.54 363.48,276.76 359.07,276.76" fill="#fff" stroke="#000" stroke-width="1.15" stroke-linejoin="miter"/>
<polygon points="363.06,277.22 365.27,281.45 360.86,281.45" fill="#fff" stroke="#000" stroke-width="1.15" stroke-linejoin="miter"/>
<polygon points="366.34,282.96 368.55,287.18 364.14,287.18" fill="#fff" stroke="#000" stroke-width="1.15" stroke-linejoin="miter"/>
<polygon points="368.93,290.35 371.13,294.58 366.72,294.58" fill="#fff" stroke="#000" stroke-width="1.15" stroke-linejoin="miter"/>
<polygon points="376.88,300.77 379.08,305.00 374.67,305.00" fill="#fff" stroke="#000" stroke-width="1.15" stroke-linejoin="miter"/>
<polygon points="386.92,318.58 389.12,322.81 384.71,322.81" fill="#fff" stroke="#000" stroke-width="1.15" stroke-linejoin="miter"/>
<circle cx="343.30" cy="223.17" r="2.10" fill="#3a3a3a" stroke="#000" stroke-width="1.15"/><line x1="342.25" y1="223.17" x2="344.35" y2="223.17" stroke="#999" stroke-width="0.6"/>
<circle cx="343.30" cy="223.75" r="2.10" fill="#3a3a3a" stroke="#000" stroke-width="1.15"/><line x1="342.25" y1="223.75" x2="344.35" y2="223.75" stroke="#999" stroke-width="0.6"/>
<circle cx="343.30" cy="224.34" r="2.10" fill="#3a3a3a" stroke="#000" stroke-width="1.15"/><line x1="342.25" y1="224.34" x2="344.35" y2="224.34" stroke="#999" stroke-width="0.6"/>
<circle cx="343.38" cy="224.94" r="2.10" fill="#3a3a3a" stroke="#000" stroke-width="1.15"/><line x1="342.33" y1="224.94" x2="344.43" y2="224.94" stroke="#999" stroke-width="0.6"/>
<circle cx="343.36" cy="225.56" r="2.10" fill="#3a3a3a" stroke="#000" stroke-width="1.15"/><line x1="342.31" y1="225.56" x2="344.41" y2="225.56" stroke="#999" stroke-width="0.6"/>
<circle cx="343.48" cy="226.20" r="2.10" fill="#3a3a3a" stroke="#000" stroke-width="1.15"/><line x1="342.43" y1="226.20" x2="344.53" y2="226.20" stroke="#999" stroke-width="0.6"/>
<circle cx="343.69" cy="226.85" r="2.10" fill="#3a3a3a" stroke="#000" stroke-width="1.15"/><line x1="342.64" y1="226.85" x2="344.74" y2="226.85" stroke="#999" stroke-width="0.6"/>
<circle cx="343.37" cy="227.51" r="2.10" fill="#3a3a3a" stroke="#000" stroke-width="1.15"/><line x1="342.32" y1="227.51" x2="344.42" y2="227.51" stroke="#999" stroke-width="0.6"/>
<circle cx="343.30" cy="228.20" r="2.10" fill="#3a3a3a" stroke="#000" stroke-width="1.15"/><line x1="342.25" y1="228.20" x2="344.35" y2="228.20" stroke="#999" stroke-width="0.6"/>
<circle cx="344.16" cy="228.90" r="2.10" fill="#3a3a3a" stroke="#000" stroke-width="1.15"/><line x1="343.11" y1="228.90" x2="345.21" y2="228.90" stroke="#999" stroke-width="0.6"/>
<circle cx="343.41" cy="229.63" r="2.10" fill="#3a3a3a" stroke="#000" stroke-width="1.15"/><line x1="342.36" y1="229.63" x2="344.46" y2="229.63" stroke="#999" stroke-width="0.6"/>
<circle cx="344.05" cy="230.37" r="2.10" fill="#3a3a3a" stroke="#000" stroke-width="1.15"/><line x1="343.00" y1="230.37" x2="345.10" y2="230.37" stroke="#999" stroke-width="0.6"/>
<circle cx="344.38" cy="231.14" r="2.10" fill="#3a3a3a" stroke="#000" stroke-width="1.15"/><line x1="343.33" y1="231.14" x2="345.43" y2="231.14" stroke="#999" stroke-width="0.6"/>
<circle cx="343.74" cy="231.93" r="2.10" fill="#3a3a3a" stroke="#000" stroke-width="1.15"/><line x1="342.69" y1="231.93" x2="344.79" y2="231.93" stroke="#999" stroke-width="0.6"/>
<circle cx="344.31" cy="232.75" r="2.10" fill="#3a3a3a" stroke="#000" stroke-width="1.15"/><line x1="343.26" y1="232.75" x2="345.36" y2="232.75" stroke="#999" stroke-width="0.6"/>
<circle cx="344.43" cy="233.59" r="2.10" fill="#3a3a3a" stroke="#000" stroke-width="1.15"/><line x1="343.38" y1="233.59" x2="345.48" y2="233.59" stroke="#999" stroke-width="0.6"/>
<circle cx="344.05" cy="234.46" r="2.10" fill="#3a3a3a" stroke="#000" stroke-width="1.15"/><line x1="343.00" y1="234.46" x2="345.10" y2="234.46" stroke="#999" stroke-width="0.6"/>
<circle cx="344.56" cy="235.36" r="2.10" fill="#3a3a3a" stroke="#000" stroke-width="1.15"/><line x1="343.51" y1="235.36" x2="345.61" y2="235.36" stroke="#999" stroke-width="0.6"/>
<circle cx="344.81" cy="236.30" r="2.10" fill="#3a3a3a" stroke="#000" stroke-width="1.15"/><line x1="343.76" y1="236.30" x2="345.86" y2="236.30" stroke="#999" stroke-width="0.6"/>
<circle cx="345.20" cy="237.27" r="2.10" fill="#3a3a3a" stroke="#000" stroke-width="1.15"/><line x1="344.15" y1="237.27" x2="346.25" y2="237.27" stroke="#999" stroke-width="0.6"/>
<circle cx="345.19" cy="238.27" r="2.10" fill="#3a3a3a" stroke="#000" stroke-width="1.15"/><line x1="344.14" y1="238.27" x2="346.24" y2="238.27" stroke="#999" stroke-width="0.6"/>
<circle cx="345.71" cy="239.32" r="2.10" fill="#3a3a3a" stroke="#000" stroke-width="1.15"/><line x1="344.66" y1="239.32" x2="346.76" y2="239.32" stroke="#999" stroke-width="0.6"/>
<circle cx="345.71" cy="240.42" r="2.10" fill="#3a3a3a" stroke="#000" stroke-width="1.15"/><line x1="344.66" y1="240.42" x2="346.76" y2="240.42" stroke="#999" stroke-width="0.6"/>
<circle cx="346.56" cy="241.56" r="2.10" fill="#3a3a3a" stroke="#000" stroke-width="1.15"/><line x1="345.51" y1="241.56" x2="347.61" y2="241.56" stroke="#999" stroke-width="0.6"/>
<circle cx="347.11" cy="242.76" r="2.10" fill="#3a3a3a" stroke="#000" stroke-width="1.15"/><line x1="346.06" y1="242.76" x2="348.16" y2="242.76" stroke="#999" stroke-width="0.6"/>
<circle cx="347.84" cy="244.01" r="2.10" fill="#3a3a3a" stroke="#000" stroke-width="1.15"/><line x1="346.79" y1="244.01" x2="348.89" y2="244.01" stroke="#999" stroke-width="0.6"/>
<circle cx="348.07" cy="245.33" r="2.10" fill="#3a3a3a" stroke="#000" stroke-width="1.15"/><line x1="347.02" y1="245.33" x2="349.12" y2="245.33" stroke="#999" stroke-width="0.6"/>
<circle cx="348.04" cy="246.72" r="2.10" fill="#3a3a3a" stroke="#000" stroke-width="1.15"/><line x1="346.99" y1="246.72" x2="349.09" y2="246.72" stroke="#999" stroke-width="0.6"/>
<circle cx="349.10" cy="248.19" r="2.10" fill="#3a3a3a" stroke="#000" stroke-width="1.15"/><line x1="348.05" y1="248.19" x2="350.15" y2="248.19" stroke="#999" stroke-width="0.6"/>
<circle cx="349.47" cy="249.74" r="2.10" fill="#3a3a3a" stroke="#000" stroke-width="1.15"/><line x1="348.42" y1="249.74" x2="350.52" y2="249.74" stroke="#999" stroke-width="0.6"/>
<circle cx="350.05" cy="251.40" r="2.10" fill="#3a3a3a" stroke="#000" stroke-width="1.15"/><line x1="349.00" y1="251.40" x2="351.10" y2="251.40" stroke="#999" stroke-width="0.6"/>
<circle cx="350.21" cy="253.18" r="2.10" fill="#3a3a3a" stroke="#000" stroke-width="1.15"/><line x1="349.16" y1="253.18" x2="351.26" y2="253.18" stroke="#999" stroke-width="0.6"/>
<circle cx="351.29" cy="255.08" r="2.10" fill="#3a3a3a" stroke="#000" stroke-width="1.15"/><line x1="350.24" y1="255.08" x2="352.34" y2="255.08" stroke="#999" stroke-width="0.6"/>
<circle cx="351.96" cy="257.14" r="2.10" fill="#3a3a3a" stroke="#000" stroke-width="1.15"/><line x1="350.91" y1="257.14" x2="353.01" y2="257.14" stroke="#999" stroke-width="0.6"/>
<circle cx="352.25" cy="259.37" r="2.10" fill="#3a3a3a" stroke="#000" stroke-width="1.15"/><line x1="351.20" y1="259.37" x2="353.30" y2="259.37" stroke="#999" stroke-width="0.6"/>
<circle cx="353.61" cy="261.82" r="2.10" fill="#3a3a3a" stroke="#000" stroke-width="1.15"/><line x1="352.56" y1="261.82" x2="354.66" y2="261.82" stroke="#999" stroke-width="0.6"/>
<circle cx="353.58" cy="264.53" r="2.10" fill="#3a3a3a" stroke="#000" stroke-width="1.15"/><line x1="352.53" y1="264.53" x2="354.63" y2="264.53" stroke="#999" stroke-width="0.6"/>
<circle cx="355.38" cy="267.56" r="2.10" fill="#3a3a3a" stroke="#000" stroke-width="1.15"/><line x1="354.33" y1="267.56" x2="356.43" y2="267.56" stroke="#999" stroke-width="0.6"/>
<circle cx="356.36" cy="270.99" r="2.10" fill="#3a3a3a" stroke="#000" stroke-width="1.15"/><line x1="355.31" y1="270.99" x2="357.41" y2="270.99" stroke="#999" stroke-width="0.6"/>
<circle cx="356.58" cy="274.95" r="2.10" fill="#3a3a3a" stroke="#000" stroke-width="1.15"/><line x1="355.53" y1="274.95" x2="357.63" y2="274.95" stroke="#999" stroke-width="0.6"/>
<circle cx="358.36" cy="279.64" r="2.10" fill="#3a3a3a" stroke="#000" stroke-width="1.15"/><line x1="357.31" y1="279.64" x2="359.41" y2="279.64" stroke="#999" stroke-width="0.6"/>
<circle cx="359.67" cy="285.37" r="2.10" fill="#3a3a3a" stroke="#000" stroke-width="1.15"/><line x1="358.62" y1="285.37" x2="360.72" y2="285.37" stroke="#999" stroke-width="0.6"/>
<circle cx="362.34" cy="292.77" r="2.10" fill="#3a3a3a" stroke="#000" stroke-width="1.15"/><line x1="361.29" y1="292.77" x2="363.39" y2="292.77" stroke="#999" stroke-width="0.6"/>
<circle cx="367.91" cy="303.19" r="2.10" fill="#3a3a3a" stroke="#000" stroke-width="1.15"/><line x1="366.86" y1="303.19" x2="368.96" y2="303.19" stroke="#999" stroke-width="0.6"/>
<circle cx="373.23" cy="321.00" r="2.10" fill="#3a3a3a" stroke="#000" stroke-width="1.15"/><line x1="372.18" y1="321.00" x2="374.28" y2="321.00" stroke="#999" stroke-width="0.6"/>
<text x="315.40" y="269.20" font-size="10.6" text-anchor="middle" textLength="78.6" lengthAdjust="spacingAndGlyphs" transform="rotate(-90 315.40 269.20)">Number of bead</text>
<text x="326.70" y="269.20" font-size="10.6" text-anchor="middle" textLength="98.6" lengthAdjust="spacingAndGlyphs" transform="rotate(-90 326.70 269.20)">tethering events (ln)</text>
<text x="275.70" y="206.50" font-size="17.5" font-weight="bold">D</text>
<text x="423.10" y="208.50" font-size="8.3" textLength="67.4" lengthAdjust="spacingAndGlyphs">rVWF-A1 (I1309V)</text>
<line x1="416.60" y1="211.50" x2="499.70" y2="211.50" stroke="#000" stroke-width="1.0"/>
<text x="0" y="0" transform="translate(409.70 223.50) scale(0.93 1)" font-size="8.6">shear stress</text>
<text x="0" y="0" transform="translate(413.80 234.30) scale(0.95 1)" font-size="8.6">(dyn/cm<tspan font-size="6.6" dy="-3.4">2</tspan><tspan dy="3.4">)</tspan></text>
<text x="468.00" y="221.20" font-size="8.5" font-style="italic">k<tspan font-size="5.8" dy="1.5">off</tspan></text>
<text x="0" y="0" transform="translate(467.60 234.30) scale(0.95 1)" font-size="8.6">(s<tspan font-size="6.6" dy="-3.4">-1</tspan><tspan dy="3.4">)</tspan></text>
<text x="0" y="0" transform="translate(500.40 227.00) scale(0.93 1)" font-size="8.8">R<tspan font-size="6" dy="-3.5">2</tspan></text>
<rect x="419.55" y="243.75" width="4.70" height="4.70" fill="#fff" stroke="#000" stroke-width="1.15"/>
<text x="0" y="0" transform="translate(429.50 249.20) scale(0.91 1)" font-size="8.8">0.5</text>
<text x="0" y="0" transform="translate(484.80 249.20) scale(0.91 1)" font-size="8.8" text-anchor="end">0.56</text>
<text x="0" y="0" transform="translate(495.10 249.20) scale(0.91 1)" font-size="8.8">0.98</text>
<polygon points="419.20,259.90 423.93,257.43 423.93,262.37" fill="#fff" stroke="#000" stroke-width="1.15"/>
<text x="0" y="0" transform="translate(429.50 263.00) scale(0.91 1)" font-size="8.8">0.85</text>
<text x="0" y="0" transform="translate(484.80 263.00) scale(0.91 1)" font-size="8.8" text-anchor="end">0.73</text>
<text x="0" y="0" transform="translate(495.10 263.00) scale(0.91 1)" font-size="8.8">0.99</text>
<polygon points="421.90,271.50 424.37,276.23 419.43,276.23" fill="#fff" stroke="#000" stroke-width="1.15" stroke-linejoin="miter"/>
<text x="0" y="0" transform="translate(429.50 277.30) scale(0.91 1)" font-size="8.8">1.5</text>
<text x="0" y="0" transform="translate(484.80 277.30) scale(0.91 1)" font-size="8.8" text-anchor="end">1.19</text>
<text x="0" y="0" transform="translate(495.10 277.30) scale(0.91 1)" font-size="8.8">0.99</text>
<circle cx="421.90" cy="288.10" r="2.35" fill="#3a3a3a" stroke="#000" stroke-width="1.15"/><line x1="420.72" y1="288.10" x2="423.07" y2="288.10" stroke="#999" stroke-width="0.6"/>
<text x="0" y="0" transform="translate(429.50 291.20) scale(0.91 1)" font-size="8.8">3.0</text>
<text x="0" y="0" transform="translate(484.80 291.20) scale(0.91 1)" font-size="8.8" text-anchor="end">1.54</text>
<text x="0" y="0" transform="translate(495.10 291.20) scale(0.91 1)" font-size="8.8">0.98</text>
<line x1="47.50" y1="367.00" x2="47.50" y2="475.00" stroke="#000" stroke-width="1.0"/>
<line x1="42.70" y1="474.50" x2="47.50" y2="474.50" stroke="#000" stroke-width="1.0"/>
<line x1="42.70" y1="453.50" x2="47.50" y2="453.50" stroke="#000" stroke-width="1.0"/>
<line x1="42.70" y1="431.50" x2="47.50" y2="431.50" stroke="#000" stroke-width="1.0"/>
<line x1="42.70" y1="410.50" x2="47.50" y2="410.50" stroke="#000" stroke-width="1.0"/>
<line x1="42.70" y1="388.50" x2="47.50" y2="388.50" stroke="#000" stroke-width="1.0"/>
<line x1="42.70" y1="367.50" x2="47.50" y2="367.50" stroke="#000" stroke-width="1.0"/>
<line x1="45.00" y1="463.50" x2="47.50" y2="463.50" stroke="#000" stroke-width="1.0"/>
<line x1="45.00" y1="442.50" x2="47.50" y2="442.50" stroke="#000" stroke-width="1.0"/>
<line x1="45.00" y1="421.50" x2="47.50" y2="421.50" stroke="#000" stroke-width="1.0"/>
<line x1="45.00" y1="399.50" x2="47.50" y2="399.50" stroke="#000" stroke-width="1.0"/>
<line x1="45.00" y1="378.50" x2="47.50" y2="378.50" stroke="#000" stroke-width="1.0"/>
<text x="38.60" y="478.28" font-size="10.5" text-anchor="end">0</text>
<text x="38.60" y="456.88" font-size="10.5" text-anchor="end">1</text>
<text x="38.60" y="435.48" font-size="10.5" text-anchor="end">2</text>
<text x="38.60" y="414.08" font-size="10.5" text-anchor="end">3</text>
<text x="38.60" y="392.68" font-size="10.5" text-anchor="end">4</text>
<text x="38.60" y="371.28" font-size="10.5" text-anchor="end">5</text>
<line x1="47.00" y1="474.50" x2="157.50" y2="474.50" stroke="#000" stroke-width="1.0"/>
<line x1="47.50" y1="474.50" x2="47.50" y2="478.70" stroke="#000" stroke-width="1.0"/>
<line x1="75.50" y1="474.50" x2="75.50" y2="478.70" stroke="#000" stroke-width="1.0"/>
<line x1="102.50" y1="474.50" x2="102.50" y2="478.70" stroke="#000" stroke-width="1.0"/>
<line x1="130.50" y1="474.50" x2="130.50" y2="478.70" stroke="#000" stroke-width="1.0"/>
<line x1="157.50" y1="474.50" x2="157.50" y2="478.70" stroke="#000" stroke-width="1.0"/>
<line x1="61.50" y1="474.50" x2="61.50" y2="477.00" stroke="#000" stroke-width="1.0"/>
<line x1="88.50" y1="474.50" x2="88.50" y2="477.00" stroke="#000" stroke-width="1.0"/>
<line x1="116.50" y1="474.50" x2="116.50" y2="477.00" stroke="#000" stroke-width="1.0"/>
<line x1="143.50" y1="474.50" x2="143.50" y2="477.00" stroke="#000" stroke-width="1.0"/>
<text x="47.50" y="491.40" font-size="10.5" text-anchor="middle">0</text>
<text x="75.00" y="491.40" font-size="10.5" text-anchor="middle">0.2</text>
<text x="102.50" y="491.40" font-size="10.5" text-anchor="middle">0.4</text>
<text x="130.00" y="491.40" font-size="10.5" text-anchor="middle">0.6</text>
<text x="157.50" y="491.40" font-size="10.5" text-anchor="middle">0.8</text>
<text x="69.20" y="503.90" font-size="10.9" textLength="71.0" lengthAdjust="spacingAndGlyphs">Pause time (s)</text>
<line x1="47.50" y1="400.46" x2="137.43" y2="474.50" stroke="#000" stroke-width="1.15"/>
<line x1="47.50" y1="385.26" x2="113.94" y2="474.50" stroke="#000" stroke-width="1.15"/>
<line x1="47.50" y1="392.11" x2="103.17" y2="474.50" stroke="#000" stroke-width="1.15"/>
<line x1="47.50" y1="396.39" x2="92.19" y2="474.50" stroke="#000" stroke-width="1.15"/>
<rect x="53.19" y="394.63" width="5.20" height="5.20" fill="none" stroke="#000" stroke-width="1.15"/>
<rect x="53.56" y="395.21" width="5.20" height="5.20" fill="none" stroke="#000" stroke-width="1.15"/>
<rect x="54.72" y="395.82" width="5.20" height="5.20" fill="none" stroke="#000" stroke-width="1.15"/>
<rect x="55.28" y="396.44" width="5.20" height="5.20" fill="none" stroke="#000" stroke-width="1.15"/>
<rect x="56.79" y="397.07" width="5.20" height="5.20" fill="none" stroke="#000" stroke-width="1.15"/>
<rect x="57.64" y="397.73" width="5.20" height="5.20" fill="none" stroke="#000" stroke-width="1.15"/>
<rect x="58.38" y="398.41" width="5.20" height="5.20" fill="#fff" stroke="#000" stroke-width="1.15"/>
<rect x="58.96" y="399.11" width="5.20" height="5.20" fill="#fff" stroke="#000" stroke-width="1.15"/>
<rect x="59.21" y="399.84" width="5.20" height="5.20" fill="#fff" stroke="#000" stroke-width="1.15"/>
<rect x="59.62" y="400.59" width="5.20" height="5.20" fill="#fff" stroke="#000" stroke-width="1.15"/>
<rect x="60.33" y="401.37" width="5.20" height="5.20" fill="#fff" stroke="#000" stroke-width="1.15"/>
<rect x="61.51" y="402.18" width="5.20" height="5.20" fill="#fff" stroke="#000" stroke-width="1.15"/>
<rect x="62.03" y="403.02" width="5.20" height="5.20" fill="#fff" stroke="#000" stroke-width="1.15"/>
<rect x="61.58" y="403.89" width="5.20" height="5.20" fill="#fff" stroke="#000" stroke-width="1.15"/>
<rect x="62.05" y="404.80" width="5.20" height="5.20" fill="#fff" stroke="#000" stroke-width="1.15"/>
<rect x="62.79" y="405.75" width="5.20" height="5.20" fill="#fff" stroke="#000" stroke-width="1.15"/>
<rect x="63.11" y="406.75" width="5.20" height="5.20" fill="#fff" stroke="#000" stroke-width="1.15"/>
<rect x="64.69" y="407.79" width="5.20" height="5.20" fill="#fff" stroke="#000" stroke-width="1.15"/>
<rect x="64.77" y="408.89" width="5.20" height="5.20" fill="#fff" stroke="#000" stroke-width="1.15"/>
<rect x="66.15" y="410.05" width="5.20" height="5.20" fill="#fff" stroke="#000" stroke-width="1.15"/>
<rect x="66.69" y="411.27" width="5.20" height="5.20" fill="#fff" stroke="#000" stroke-width="1.15"/>
<rect x="67.40" y="412.57" width="5.20" height="5.20" fill="#fff" stroke="#000" stroke-width="1.15"/>
<rect x="68.26" y="413.95" width="5.20" height="5.20" fill="#fff" stroke="#000" stroke-width="1.15"/>
<rect x="69.31" y="415.42" width="5.20" height="5.20" fill="#fff" stroke="#000" stroke-width="1.15"/>
<rect x="71.58" y="417.01" width="5.20" height="5.20" fill="#fff" stroke="#000" stroke-width="1.15"/>
<rect x="72.77" y="418.72" width="5.20" height="5.20" fill="#fff" stroke="#000" stroke-width="1.15"/>
<rect x="75.21" y="420.59" width="5.20" height="5.20" fill="#fff" stroke="#000" stroke-width="1.15"/>
<rect x="77.06" y="422.62" width="5.20" height="5.20" fill="#fff" stroke="#000" stroke-width="1.15"/>
<rect x="80.95" y="424.88" width="5.20" height="5.20" fill="#fff" stroke="#000" stroke-width="1.15"/>
<rect x="83.60" y="427.40" width="5.20" height="5.20" fill="#fff" stroke="#000" stroke-width="1.15"/>
<rect x="87.76" y="430.26" width="5.20" height="5.20" fill="#fff" stroke="#000" stroke-width="1.15"/>
<rect x="91.42" y="433.56" width="5.20" height="5.20" fill="#fff" stroke="#000" stroke-width="1.15"/>
<rect x="97.50" y="437.46" width="5.20" height="5.20" fill="#fff" stroke="#000" stroke-width="1.15"/>
<rect x="104.18" y="442.23" width="5.20" height="5.20" fill="#fff" stroke="#000" stroke-width="1.15"/>
<rect x="111.96" y="448.39" width="5.20" height="5.20" fill="#fff" stroke="#000" stroke-width="1.15"/>
<rect x="119.39" y="457.07" width="5.20" height="5.20" fill="#fff" stroke="#000" stroke-width="1.15"/>
<rect x="134.23" y="471.90" width="5.20" height="5.20" fill="#fff" stroke="#000" stroke-width="1.15"/>
<circle cx="53.86" cy="397.23" r="2.60" fill="none" stroke="#000" stroke-width="1.15"/>
<circle cx="54.92" cy="397.81" r="2.60" fill="none" stroke="#000" stroke-width="1.15"/>
<circle cx="54.89" cy="398.42" r="2.60" fill="none" stroke="#000" stroke-width="1.15"/>
<circle cx="56.84" cy="399.04" r="2.60" fill="none" stroke="#000" stroke-width="1.15"/>
<circle cx="57.82" cy="399.67" r="2.60" fill="none" stroke="#000" stroke-width="1.15"/>
<circle cx="57.80" cy="400.33" r="2.60" fill="none" stroke="#000" stroke-width="1.15"/>
<circle cx="58.18" cy="401.01" r="2.60" fill="#fff" stroke="#000" stroke-width="1.15"/>
<circle cx="59.02" cy="401.71" r="2.60" fill="#fff" stroke="#000" stroke-width="1.15"/>
<circle cx="59.41" cy="402.44" r="2.60" fill="#fff" stroke="#000" stroke-width="1.15"/>
<circle cx="59.37" cy="403.19" r="2.60" fill="#fff" stroke="#000" stroke-width="1.15"/>
<circle cx="60.65" cy="403.97" r="2.60" fill="#fff" stroke="#000" stroke-width="1.15"/>
<circle cx="60.62" cy="404.78" r="2.60" fill="#fff" stroke="#000" stroke-width="1.15"/>
<circle cx="61.44" cy="405.62" r="2.60" fill="#fff" stroke="#000" stroke-width="1.15"/>
<circle cx="61.99" cy="406.49" r="2.60" fill="#fff" stroke="#000" stroke-width="1.15"/>
<circle cx="62.44" cy="407.40" r="2.60" fill="#fff" stroke="#000" stroke-width="1.15"/>
<circle cx="63.18" cy="408.35" r="2.60" fill="#fff" stroke="#000" stroke-width="1.15"/>
<circle cx="63.86" cy="409.35" r="2.60" fill="#fff" stroke="#000" stroke-width="1.15"/>
<circle cx="63.39" cy="410.39" r="2.60" fill="#fff" stroke="#000" stroke-width="1.15"/>
<circle cx="65.24" cy="411.49" r="2.60" fill="#fff" stroke="#000" stroke-width="1.15"/>
<circle cx="65.97" cy="412.65" r="2.60" fill="#fff" stroke="#000" stroke-width="1.15"/>
<circle cx="66.77" cy="413.87" r="2.60" fill="#fff" stroke="#000" stroke-width="1.15"/>
<circle cx="68.30" cy="415.17" r="2.60" fill="#fff" stroke="#000" stroke-width="1.15"/>
<circle cx="68.61" cy="416.55" r="2.60" fill="#fff" stroke="#000" stroke-width="1.15"/>
<circle cx="70.29" cy="418.02" r="2.60" fill="#fff" stroke="#000" stroke-width="1.15"/>
<circle cx="72.20" cy="419.61" r="2.60" fill="#fff" stroke="#000" stroke-width="1.15"/>
<circle cx="73.41" cy="421.32" r="2.60" fill="#fff" stroke="#000" stroke-width="1.15"/>
<circle cx="75.15" cy="423.19" r="2.60" fill="#fff" stroke="#000" stroke-width="1.15"/>
<circle cx="76.75" cy="425.22" r="2.60" fill="#fff" stroke="#000" stroke-width="1.15"/>
<circle cx="78.32" cy="427.48" r="2.60" fill="#fff" stroke="#000" stroke-width="1.15"/>
<circle cx="81.13" cy="430.00" r="2.60" fill="#fff" stroke="#000" stroke-width="1.15"/>
<circle cx="83.58" cy="432.86" r="2.60" fill="#fff" stroke="#000" stroke-width="1.15"/>
<circle cx="86.38" cy="436.16" r="2.60" fill="#fff" stroke="#000" stroke-width="1.15"/>
<circle cx="88.46" cy="440.06" r="2.60" fill="#fff" stroke="#000" stroke-width="1.15"/>
<circle cx="93.33" cy="444.83" r="2.60" fill="#fff" stroke="#000" stroke-width="1.15"/>
<circle cx="97.78" cy="450.99" r="2.60" fill="#fff" stroke="#000" stroke-width="1.15"/>
<circle cx="104.51" cy="459.67" r="2.60" fill="#fff" stroke="#000" stroke-width="1.15"/>
<circle cx="115.93" cy="474.50" r="2.60" fill="#fff" stroke="#000" stroke-width="1.15"/>
<polygon points="51.19,394.24 53.92,399.47 48.46,399.47" fill="none" stroke="#000" stroke-width="1.15" stroke-linejoin="miter"/>
<polygon points="51.99,394.82 54.72,400.06 49.26,400.06" fill="none" stroke="#000" stroke-width="1.15" stroke-linejoin="miter"/>
<polygon points="53.00,395.43 55.73,400.66 50.27,400.66" fill="none" stroke="#000" stroke-width="1.15" stroke-linejoin="miter"/>
<polygon points="53.14,396.05 55.87,401.28 50.41,401.28" fill="none" stroke="#000" stroke-width="1.15" stroke-linejoin="miter"/>
<polygon points="53.48,396.68 56.21,401.92 50.75,401.92" fill="none" stroke="#000" stroke-width="1.15" stroke-linejoin="miter"/>
<polygon points="54.48,397.34 57.21,402.58 51.75,402.58" fill="none" stroke="#000" stroke-width="1.15" stroke-linejoin="miter"/>
<polygon points="54.71,398.02 57.44,403.26 51.98,403.26" fill="#fff" stroke="#000" stroke-width="1.15" stroke-linejoin="miter"/>
<polygon points="55.44,398.72 58.17,403.96 52.71,403.96" fill="#fff" stroke="#000" stroke-width="1.15" stroke-linejoin="miter"/>
<polygon points="56.24,399.45 58.97,404.68 53.51,404.68" fill="#fff" stroke="#000" stroke-width="1.15" stroke-linejoin="miter"/>
<polygon points="56.57,400.20 59.30,405.43 53.84,405.43" fill="#fff" stroke="#000" stroke-width="1.15" stroke-linejoin="miter"/>
<polygon points="56.71,400.98 59.44,406.21 53.98,406.21" fill="#fff" stroke="#000" stroke-width="1.15" stroke-linejoin="miter"/>
<polygon points="57.19,401.79 59.92,407.02 54.46,407.02" fill="#fff" stroke="#000" stroke-width="1.15" stroke-linejoin="miter"/>
<polygon points="57.47,402.63 60.20,407.86 54.74,407.86" fill="#fff" stroke="#000" stroke-width="1.15" stroke-linejoin="miter"/>
<polygon points="57.89,403.50 60.62,408.73 55.16,408.73" fill="#fff" stroke="#000" stroke-width="1.15" stroke-linejoin="miter"/>
<polygon points="58.47,404.41 61.20,409.64 55.74,409.64" fill="#fff" stroke="#000" stroke-width="1.15" stroke-linejoin="miter"/>
<polygon points="59.50,405.36 62.23,410.59 56.77,410.59" fill="#fff" stroke="#000" stroke-width="1.15" stroke-linejoin="miter"/>
<polygon points="60.41,406.36 63.14,411.59 57.68,411.59" fill="#fff" stroke="#000" stroke-width="1.15" stroke-linejoin="miter"/>
<polygon points="60.55,407.40 63.28,412.63 57.82,412.63" fill="#fff" stroke="#000" stroke-width="1.15" stroke-linejoin="miter"/>
<polygon points="61.99,408.50 64.72,413.73 59.26,413.73" fill="#fff" stroke="#000" stroke-width="1.15" stroke-linejoin="miter"/>
<polygon points="62.99,409.66 65.72,414.89 60.26,414.89" fill="#fff" stroke="#000" stroke-width="1.15" stroke-linejoin="miter"/>
<polygon points="63.77,410.88 66.50,416.11 61.04,416.11" fill="#fff" stroke="#000" stroke-width="1.15" stroke-linejoin="miter"/>
<polygon points="64.15,412.18 66.88,417.41 61.42,417.41" fill="#fff" stroke="#000" stroke-width="1.15" stroke-linejoin="miter"/>
<polygon points="65.77,413.56 68.50,418.79 63.04,418.79" fill="#fff" stroke="#000" stroke-width="1.15" stroke-linejoin="miter"/>
<polygon points="66.90,415.03 69.63,420.27 64.17,420.27" fill="#fff" stroke="#000" stroke-width="1.15" stroke-linejoin="miter"/>
<polygon points="68.11,416.62 70.84,421.85 65.38,421.85" fill="#fff" stroke="#000" stroke-width="1.15" stroke-linejoin="miter"/>
<polygon points="68.62,418.33 71.35,423.57 65.89,423.57" fill="#fff" stroke="#000" stroke-width="1.15" stroke-linejoin="miter"/>
<polygon points="70.03,420.20 72.76,425.43 67.30,425.43" fill="#fff" stroke="#000" stroke-width="1.15" stroke-linejoin="miter"/>
<polygon points="70.67,422.23 73.40,427.47 67.94,427.47" fill="#fff" stroke="#000" stroke-width="1.15" stroke-linejoin="miter"/>
<polygon points="73.25,424.49 75.98,429.72 70.52,429.72" fill="#fff" stroke="#000" stroke-width="1.15" stroke-linejoin="miter"/>
<polygon points="75.52,427.01 78.25,432.24 72.79,432.24" fill="#fff" stroke="#000" stroke-width="1.15" stroke-linejoin="miter"/>
<polygon points="77.30,429.87 80.03,435.10 74.57,435.10" fill="#fff" stroke="#000" stroke-width="1.15" stroke-linejoin="miter"/>
<polygon points="81.06,433.17 83.79,438.40 78.33,438.40" fill="#fff" stroke="#000" stroke-width="1.15" stroke-linejoin="miter"/>
<polygon points="83.04,437.07 85.77,442.30 80.31,442.30" fill="#fff" stroke="#000" stroke-width="1.15" stroke-linejoin="miter"/>
<polygon points="85.47,441.84 88.20,447.08 82.74,447.08" fill="#fff" stroke="#000" stroke-width="1.15" stroke-linejoin="miter"/>
<polygon points="89.50,448.00 92.23,453.23 86.77,453.23" fill="#fff" stroke="#000" stroke-width="1.15" stroke-linejoin="miter"/>
<polygon points="95.39,456.68 98.12,461.91 92.66,461.91" fill="#fff" stroke="#000" stroke-width="1.15" stroke-linejoin="miter"/>
<polygon points="103.67,471.51 106.40,476.74 100.94,476.74" fill="#fff" stroke="#000" stroke-width="1.15" stroke-linejoin="miter"/>
<polygon points="49.15,393.85 52.53,397.23 49.15,400.61 45.77,397.23" fill="none" stroke="#000" stroke-width="1.15"/>
<polygon points="49.46,394.43 52.84,397.81 49.46,401.19 46.08,397.81" fill="none" stroke="#000" stroke-width="1.15"/>
<polygon points="49.15,395.04 52.53,398.42 49.15,401.80 45.77,398.42" fill="none" stroke="#000" stroke-width="1.15"/>
<polygon points="49.55,395.66 52.93,399.04 49.55,402.42 46.17,399.04" fill="none" stroke="#000" stroke-width="1.15"/>
<polygon points="49.19,396.29 52.57,399.67 49.19,403.05 45.81,399.67" fill="none" stroke="#000" stroke-width="1.15"/>
<polygon points="49.52,396.95 52.90,400.33 49.52,403.71 46.14,400.33" fill="none" stroke="#000" stroke-width="1.15"/>
<polygon points="50.71,397.63 54.09,401.01 50.71,404.39 47.33,401.01" fill="#fff" stroke="#000" stroke-width="1.15"/>
<polygon points="49.59,398.33 52.97,401.71 49.59,405.09 46.21,401.71" fill="#fff" stroke="#000" stroke-width="1.15"/>
<polygon points="50.65,399.06 54.03,402.44 50.65,405.82 47.27,402.44" fill="#fff" stroke="#000" stroke-width="1.15"/>
<polygon points="51.25,399.81 54.63,403.19 51.25,406.57 47.87,403.19" fill="#fff" stroke="#000" stroke-width="1.15"/>
<polygon points="51.37,400.59 54.75,403.97 51.37,407.35 47.99,403.97" fill="#fff" stroke="#000" stroke-width="1.15"/>
<polygon points="52.89,401.40 56.27,404.78 52.89,408.16 49.51,404.78" fill="#fff" stroke="#000" stroke-width="1.15"/>
<polygon points="53.14,402.24 56.52,405.62 53.14,409.00 49.76,405.62" fill="#fff" stroke="#000" stroke-width="1.15"/>
<polygon points="53.88,403.11 57.26,406.49 53.88,409.87 50.50,406.49" fill="#fff" stroke="#000" stroke-width="1.15"/>
<polygon points="54.00,404.02 57.38,407.40 54.00,410.78 50.62,407.40" fill="#fff" stroke="#000" stroke-width="1.15"/>
<polygon points="54.79,404.97 58.17,408.35 54.79,411.73 51.41,408.35" fill="#fff" stroke="#000" stroke-width="1.15"/>
<polygon points="56.24,405.97 59.62,409.35 56.24,412.73 52.86,409.35" fill="#fff" stroke="#000" stroke-width="1.15"/>
<polygon points="56.75,407.01 60.13,410.39 56.75,413.77 53.37,410.39" fill="#fff" stroke="#000" stroke-width="1.15"/>
<polygon points="57.68,408.11 61.06,411.49 57.68,414.87 54.30,411.49" fill="#fff" stroke="#000" stroke-width="1.15"/>
<polygon points="58.63,409.27 62.01,412.65 58.63,416.03 55.25,412.65" fill="#fff" stroke="#000" stroke-width="1.15"/>
<polygon points="59.95,410.49 63.33,413.87 59.95,417.25 56.57,413.87" fill="#fff" stroke="#000" stroke-width="1.15"/>
<polygon points="61.34,411.79 64.72,415.17 61.34,418.55 57.96,415.17" fill="#fff" stroke="#000" stroke-width="1.15"/>
<polygon points="61.82,413.17 65.20,416.55 61.82,419.93 58.44,416.55" fill="#fff" stroke="#000" stroke-width="1.15"/>
<polygon points="62.74,414.64 66.12,418.02 62.74,421.40 59.36,418.02" fill="#fff" stroke="#000" stroke-width="1.15"/>
<polygon points="63.64,416.23 67.02,419.61 63.64,422.99 60.26,419.61" fill="#fff" stroke="#000" stroke-width="1.15"/>
<polygon points="65.01,417.94 68.39,421.32 65.01,424.70 61.63,421.32" fill="#fff" stroke="#000" stroke-width="1.15"/>
<polygon points="65.47,419.81 68.85,423.19 65.47,426.57 62.09,423.19" fill="#fff" stroke="#000" stroke-width="1.15"/>
<polygon points="67.24,421.84 70.62,425.22 67.24,428.60 63.86,425.22" fill="#fff" stroke="#000" stroke-width="1.15"/>
<polygon points="67.44,424.10 70.82,427.48 67.44,430.86 64.06,427.48" fill="#fff" stroke="#000" stroke-width="1.15"/>
<polygon points="68.25,426.62 71.63,430.00 68.25,433.38 64.87,430.00" fill="#fff" stroke="#000" stroke-width="1.15"/>
<polygon points="69.77,429.48 73.15,432.86 69.77,436.24 66.39,432.86" fill="#fff" stroke="#000" stroke-width="1.15"/>
<polygon points="71.32,432.78 74.70,436.16 71.32,439.54 67.94,436.16" fill="#fff" stroke="#000" stroke-width="1.15"/>
<polygon points="72.46,436.68 75.84,440.06 72.46,443.44 69.08,440.06" fill="#fff" stroke="#000" stroke-width="1.15"/>
<polygon points="73.75,441.45 77.13,444.83 73.75,448.21 70.37,444.83" fill="#fff" stroke="#000" stroke-width="1.15"/>
<polygon points="77.87,447.61 81.25,450.99 77.87,454.37 74.49,450.99" fill="#fff" stroke="#000" stroke-width="1.15"/>
<polygon points="86.65,456.29 90.03,459.67 86.65,463.05 83.27,459.67" fill="#fff" stroke="#000" stroke-width="1.15"/>
<polygon points="95.21,471.12 98.59,474.50 95.21,477.88 91.83,474.50" fill="#fff" stroke="#000" stroke-width="1.15"/>
<text x="12.30" y="421.20" font-size="10.6" text-anchor="middle" textLength="77.8" lengthAdjust="spacingAndGlyphs" transform="rotate(-90 12.30 421.20)">Number of bead</text>
<text x="23.60" y="421.20" font-size="10.6" text-anchor="middle" textLength="97.8" lengthAdjust="spacingAndGlyphs" transform="rotate(-90 23.60 421.20)">tethering events (ln)</text>
<text x="-0.30" y="364.60" font-size="17.5" font-weight="bold">E</text>
<text x="131.50" y="368.50" font-size="8.3" textLength="101.0" lengthAdjust="spacingAndGlyphs">rVWF-A1 (I1309V, R1326H)</text>
<line x1="126.90" y1="371.50" x2="234.90" y2="371.50" stroke="#000" stroke-width="1.0"/>
<text x="0" y="0" transform="translate(132.70 383.20) scale(0.93 1)" font-size="8.6">shear stress</text>
<text x="0" y="0" transform="translate(137.30 394.20) scale(0.95 1)" font-size="8.6">(dyn/cm<tspan font-size="6.6" dy="-3.4">2</tspan><tspan dy="3.4">)</tspan></text>
<text x="191.50" y="380.50" font-size="8.5" font-style="italic">k<tspan font-size="5.8" dy="1.5">off</tspan></text>
<text x="0" y="0" transform="translate(191.50 394.20) scale(0.95 1)" font-size="8.6">(s<tspan font-size="6.6" dy="-3.4">-1</tspan><tspan dy="3.4">)</tspan></text>
<text x="0" y="0" transform="translate(221.50 386.80) scale(0.93 1)" font-size="8.8">R<tspan font-size="6" dy="-3.5">2</tspan></text>
<rect x="143.05" y="403.05" width="4.70" height="4.70" fill="#fff" stroke="#000" stroke-width="1.15"/>
<text x="0" y="0" transform="translate(152.30 408.50) scale(0.91 1)" font-size="8.8">0.5</text>
<text x="0" y="0" transform="translate(205.50 408.50) scale(0.91 1)" font-size="8.8" text-anchor="end">5.29</text>
<text x="0" y="0" transform="translate(219.20 408.50) scale(0.91 1)" font-size="8.8">0.99</text>
<circle cx="145.40" cy="418.80" r="2.35" fill="#fff" stroke="#000" stroke-width="1.15"/>
<text x="0" y="0" transform="translate(152.30 421.90) scale(0.91 1)" font-size="8.8">1.0</text>
<text x="0" y="0" transform="translate(205.50 421.90) scale(0.91 1)" font-size="8.8" text-anchor="end">8.18</text>
<text x="0" y="0" transform="translate(219.20 421.90) scale(0.91 1)" font-size="8.8">0.99</text>
<polygon points="145.40,429.90 147.87,434.63 142.93,434.63" fill="#fff" stroke="#000" stroke-width="1.15" stroke-linejoin="miter"/>
<text x="0" y="0" transform="translate(152.30 435.70) scale(0.91 1)" font-size="8.8">1.5</text>
<text x="0" y="0" transform="translate(205.50 435.70) scale(0.91 1)" font-size="8.8" text-anchor="end">9.51</text>
<text x="0" y="0" transform="translate(219.20 435.70) scale(0.91 1)" font-size="8.8">0.98</text>
<polygon points="145.40,443.44 148.46,446.50 145.40,449.56 142.34,446.50" fill="#fff" stroke="#000" stroke-width="1.15"/>
<text x="0" y="0" transform="translate(152.30 449.60) scale(0.91 1)" font-size="8.8">2.0</text>
<text x="0" y="0" transform="translate(205.50 449.60) scale(0.91 1)" font-size="8.8" text-anchor="end">11.23</text>
<text x="0" y="0" transform="translate(219.20 449.60) scale(0.91 1)" font-size="8.8">0.97</text>
<text x="275.70" y="364.70" font-size="17.5" font-weight="bold">F</text>
<line x1="326.50" y1="372.00" x2="326.50" y2="477.50" stroke="#000" stroke-width="1.0"/>
<line x1="322.50" y1="477.50" x2="326.50" y2="477.50" stroke="#000" stroke-width="1.0"/>
<line x1="322.50" y1="456.50" x2="326.50" y2="456.50" stroke="#000" stroke-width="1.0"/>
<line x1="322.50" y1="435.50" x2="326.50" y2="435.50" stroke="#000" stroke-width="1.0"/>
<line x1="322.50" y1="414.50" x2="326.50" y2="414.50" stroke="#000" stroke-width="1.0"/>
<line x1="322.50" y1="393.50" x2="326.50" y2="393.50" stroke="#000" stroke-width="1.0"/>
<line x1="322.50" y1="372.50" x2="326.50" y2="372.50" stroke="#000" stroke-width="1.0"/>
<text x="319.00" y="480.70" font-size="10.3" text-anchor="end">0</text>
<text x="319.00" y="459.80" font-size="10.3" text-anchor="end">5</text>
<text x="319.00" y="438.90" font-size="10.3" text-anchor="end">10</text>
<text x="319.00" y="418.00" font-size="10.3" text-anchor="end">15</text>
<text x="319.00" y="397.10" font-size="10.3" text-anchor="end">20</text>
<text x="319.00" y="376.20" font-size="10.3" text-anchor="end">25</text>
<line x1="326.00" y1="477.50" x2="430.80" y2="477.50" stroke="#000" stroke-width="1.0"/>
<line x1="326.50" y1="477.50" x2="326.50" y2="481.50" stroke="#000" stroke-width="1.0"/>
<line x1="373.50" y1="477.50" x2="373.50" y2="481.50" stroke="#000" stroke-width="1.0"/>
<line x1="421.50" y1="477.50" x2="421.50" y2="481.50" stroke="#000" stroke-width="1.0"/>
<line x1="349.50" y1="477.50" x2="349.50" y2="480.00" stroke="#000" stroke-width="1.0"/>
<line x1="397.50" y1="477.50" x2="397.50" y2="480.00" stroke="#000" stroke-width="1.0"/>
<text x="326.00" y="492.20" font-size="10" text-anchor="middle">0</text>
<text x="373.50" y="492.20" font-size="10" text-anchor="middle">100</text>
<text x="421.00" y="492.20" font-size="10" text-anchor="middle">200</text>
<text x="313.50" y="505.20" font-size="10.9">Force acting on bond (pN)</text>
<text x="297.80" y="427.30" font-size="11.5" text-anchor="middle" font-style="italic" transform="rotate(-90 297.80 427.30)">k<tspan font-size="9" dy="2.2">off</tspan><tspan dy="-2.2"> (s</tspan><tspan font-size="7.5" dy="-4.8">-1</tspan><tspan dy="4.8">)</tspan></text>
<polyline points="326.00,443.98 327.44,443.01 328.87,442.01 330.31,440.98 331.75,439.92 333.18,438.83 334.62,437.70 336.06,436.55 337.50,435.36 338.93,434.13 340.37,432.87 341.81,431.57 343.24,430.23 344.68,428.86 346.12,427.44 347.55,425.98 348.99,424.48 350.43,422.94 351.86,421.35 353.30,419.71 354.74,418.02 356.17,416.29 357.61,414.50 359.05,412.66 360.49,410.77 361.92,408.82 363.36,406.81 364.80,404.75 366.23,402.62 367.67,400.43 369.11,398.18 370.54,395.86 371.98,393.47 373.42,391.02 374.85,388.49 376.29,385.88 377.73,383.20 379.16,380.44 380.60,377.60 382.04,374.67 383.48,371.66" fill="none" stroke="#000" stroke-width="1.1"/>
<polyline points="326.00,459.44 328.61,458.75 331.23,458.04 333.84,457.29 336.45,456.52 339.06,455.72 341.68,454.88 344.29,454.01 346.90,453.11 349.51,452.17 352.12,451.20 354.74,450.18 357.35,449.13 359.96,448.04 362.57,446.90 365.19,445.72 367.80,444.49 370.41,443.21 373.02,441.89 375.64,440.51 378.25,439.07 380.86,437.59 383.48,436.04 386.09,434.43 388.70,432.76 391.31,431.02 393.93,429.22 396.54,427.34 399.15,425.39 401.76,423.36 404.38,421.26 406.99,419.07 409.60,416.80 412.21,414.43 414.82,411.97 417.44,409.42 420.05,406.77 422.66,404.01 425.27,401.15 427.89,398.17 430.50,395.07" fill="none" stroke="#000" stroke-width="1.1"/>
<polyline points="326.00,464.04 328.61,463.53 331.23,463.01 333.84,462.46 336.45,461.89 339.06,461.30 341.68,460.68 344.29,460.05 346.90,459.38 349.51,458.69 352.12,457.98 354.74,457.23 357.35,456.46 359.96,455.65 362.57,454.82 365.19,453.95 367.80,453.05 370.41,452.11 373.02,451.14 375.64,450.12 378.25,449.07 380.86,447.98 383.48,446.84 386.09,445.66 388.70,444.44 391.31,443.16 393.93,441.84 396.54,440.46 399.15,439.03 401.76,437.54 404.38,436.00 406.99,434.39 409.60,432.73 412.21,430.99 414.82,429.19 417.44,427.32 420.05,425.38 422.66,423.36 425.27,421.26 427.89,419.08 430.50,416.81" fill="none" stroke="#000" stroke-width="1.1"/>
<polyline points="326.00,475.33 328.56,475.27 331.13,475.22 333.69,475.16 336.26,475.10 338.82,475.04 341.39,474.98 343.95,474.92 346.52,474.85 349.08,474.78 351.65,474.71 354.21,474.64 356.78,474.57 359.35,474.49 361.91,474.41 364.48,474.33 367.04,474.24 369.61,474.15 372.17,474.06 374.74,473.97 377.30,473.87 379.87,473.77 382.43,473.67 385.00,473.56 387.56,473.45 390.12,473.34 392.69,473.23 395.25,473.11 397.82,472.98 400.38,472.85 402.95,472.72 405.51,472.59 408.08,472.44 410.64,472.30 413.21,472.15 415.77,472.00 418.34,471.84 420.90,471.67 423.47,471.50 426.03,471.33 428.60,471.15" fill="none" stroke="#000" stroke-width="1.1"/>
<line x1="360.20" y1="418.48" x2="360.20" y2="407.61" stroke="#000" stroke-width="1.0"/>
<line x1="357.90" y1="418.48" x2="362.50" y2="418.48" stroke="#000" stroke-width="1.0"/>
<line x1="357.90" y1="407.61" x2="362.50" y2="407.61" stroke="#000" stroke-width="1.0"/>
<rect x="358.20" y="411.05" width="4.00" height="4.00" fill="#fff" stroke="#000" stroke-width="1.0"/>
<line x1="368.51" y1="403.43" x2="368.51" y2="391.73" stroke="#000" stroke-width="1.0"/>
<line x1="366.21" y1="403.43" x2="370.81" y2="403.43" stroke="#000" stroke-width="1.0"/>
<line x1="366.21" y1="391.73" x2="370.81" y2="391.73" stroke="#000" stroke-width="1.0"/>
<rect x="366.51" y="395.58" width="4.00" height="4.00" fill="#fff" stroke="#000" stroke-width="1.0"/>
<line x1="376.82" y1="405.10" x2="376.82" y2="376.68" stroke="#000" stroke-width="1.0"/>
<line x1="374.52" y1="405.10" x2="379.12" y2="405.10" stroke="#000" stroke-width="1.0"/>
<line x1="374.52" y1="376.68" x2="379.12" y2="376.68" stroke="#000" stroke-width="1.0"/>
<rect x="374.82" y="388.89" width="4.00" height="4.00" fill="#fff" stroke="#000" stroke-width="1.0"/>
<line x1="343.57" y1="460.28" x2="343.57" y2="451.92" stroke="#000" stroke-width="1.0"/>
<line x1="341.27" y1="460.28" x2="345.88" y2="460.28" stroke="#000" stroke-width="1.0"/>
<line x1="341.27" y1="451.92" x2="345.88" y2="451.92" stroke="#000" stroke-width="1.0"/>
<polygon points="343.57,453.46 345.99,458.08 341.16,458.08" fill="#fff" stroke="#000" stroke-width="1.0" stroke-linejoin="miter"/>
<line x1="360.20" y1="446.49" x2="360.20" y2="435.62" stroke="#000" stroke-width="1.0"/>
<line x1="357.90" y1="446.49" x2="362.50" y2="446.49" stroke="#000" stroke-width="1.0"/>
<line x1="357.90" y1="435.62" x2="362.50" y2="435.62" stroke="#000" stroke-width="1.0"/>
<polygon points="360.20,438.41 362.62,443.04 357.78,443.04" fill="#fff" stroke="#000" stroke-width="1.0" stroke-linejoin="miter"/>
<line x1="376.82" y1="441.89" x2="376.82" y2="431.86" stroke="#000" stroke-width="1.0"/>
<line x1="374.52" y1="441.89" x2="379.12" y2="441.89" stroke="#000" stroke-width="1.0"/>
<line x1="374.52" y1="431.86" x2="379.12" y2="431.86" stroke="#000" stroke-width="1.0"/>
<polygon points="376.82,434.23 379.24,438.86 374.41,438.86" fill="#fff" stroke="#000" stroke-width="1.0" stroke-linejoin="miter"/>
<line x1="394.40" y1="433.95" x2="394.40" y2="425.59" stroke="#000" stroke-width="1.0"/>
<line x1="392.10" y1="433.95" x2="396.70" y2="433.95" stroke="#000" stroke-width="1.0"/>
<line x1="392.10" y1="425.59" x2="396.70" y2="425.59" stroke="#000" stroke-width="1.0"/>
<polygon points="394.40,427.12 396.81,431.75 391.98,431.75" fill="#fff" stroke="#000" stroke-width="1.0" stroke-linejoin="miter"/>
<line x1="343.57" y1="462.37" x2="343.57" y2="455.68" stroke="#000" stroke-width="1.0"/>
<line x1="341.27" y1="462.37" x2="345.88" y2="462.37" stroke="#000" stroke-width="1.0"/>
<line x1="341.27" y1="455.68" x2="345.88" y2="455.68" stroke="#000" stroke-width="1.0"/>
<circle cx="343.57" cy="459.03" r="2.20" fill="#fff" stroke="#000" stroke-width="1.0"/>
<line x1="360.20" y1="458.19" x2="360.20" y2="454.01" stroke="#000" stroke-width="1.0"/>
<line x1="357.90" y1="458.19" x2="362.50" y2="458.19" stroke="#000" stroke-width="1.0"/>
<line x1="357.90" y1="454.01" x2="362.50" y2="454.01" stroke="#000" stroke-width="1.0"/>
<circle cx="360.20" cy="456.10" r="2.20" fill="#fff" stroke="#000" stroke-width="1.0"/>
<line x1="376.82" y1="452.76" x2="376.82" y2="446.90" stroke="#000" stroke-width="1.0"/>
<line x1="374.52" y1="452.76" x2="379.12" y2="452.76" stroke="#000" stroke-width="1.0"/>
<line x1="374.52" y1="446.90" x2="379.12" y2="446.90" stroke="#000" stroke-width="1.0"/>
<circle cx="376.82" cy="449.83" r="2.20" fill="#fff" stroke="#000" stroke-width="1.0"/>
<line x1="394.40" y1="446.90" x2="394.40" y2="438.54" stroke="#000" stroke-width="1.0"/>
<line x1="392.10" y1="446.90" x2="396.70" y2="446.90" stroke="#000" stroke-width="1.0"/>
<line x1="392.10" y1="438.54" x2="396.70" y2="438.54" stroke="#000" stroke-width="1.0"/>
<circle cx="394.40" cy="442.72" r="2.20" fill="#fff" stroke="#000" stroke-width="1.0"/>
<polygon points="343.57,472.47 346.44,475.33 343.57,478.19 340.71,475.33" fill="#fff" stroke="#000" stroke-width="1.0"/>
<polygon points="355.45,472.05 358.31,474.91 355.45,477.77 352.59,474.91" fill="#fff" stroke="#000" stroke-width="1.0"/>
<polygon points="376.82,470.80 379.69,473.66 376.82,476.52 373.96,473.66" fill="#fff" stroke="#000" stroke-width="1.0"/>
<polygon points="428.60,468.29 431.46,471.15 428.60,474.01 425.74,471.15" fill="#fff" stroke="#000" stroke-width="1.0"/>
<text x="389.40" y="372.20" font-size="8.3" textLength="71.4" lengthAdjust="spacingAndGlyphs">rVWF-A1 (R1326H)</text>
<text x="419.00" y="392.50" font-size="8.3" textLength="100.5" lengthAdjust="spacingAndGlyphs">rVWF-A1 (I1309V, R1326H)</text>
<text x="433.80" y="416.00" font-size="8.3" textLength="56.0" lengthAdjust="spacingAndGlyphs">rVWF-A1 (WT)</text>
<text x="434.80" y="471.60" font-size="8.3" textLength="67.0" lengthAdjust="spacingAndGlyphs">rVWF-A1 (I1309V)</text></svg>
</body></html>
